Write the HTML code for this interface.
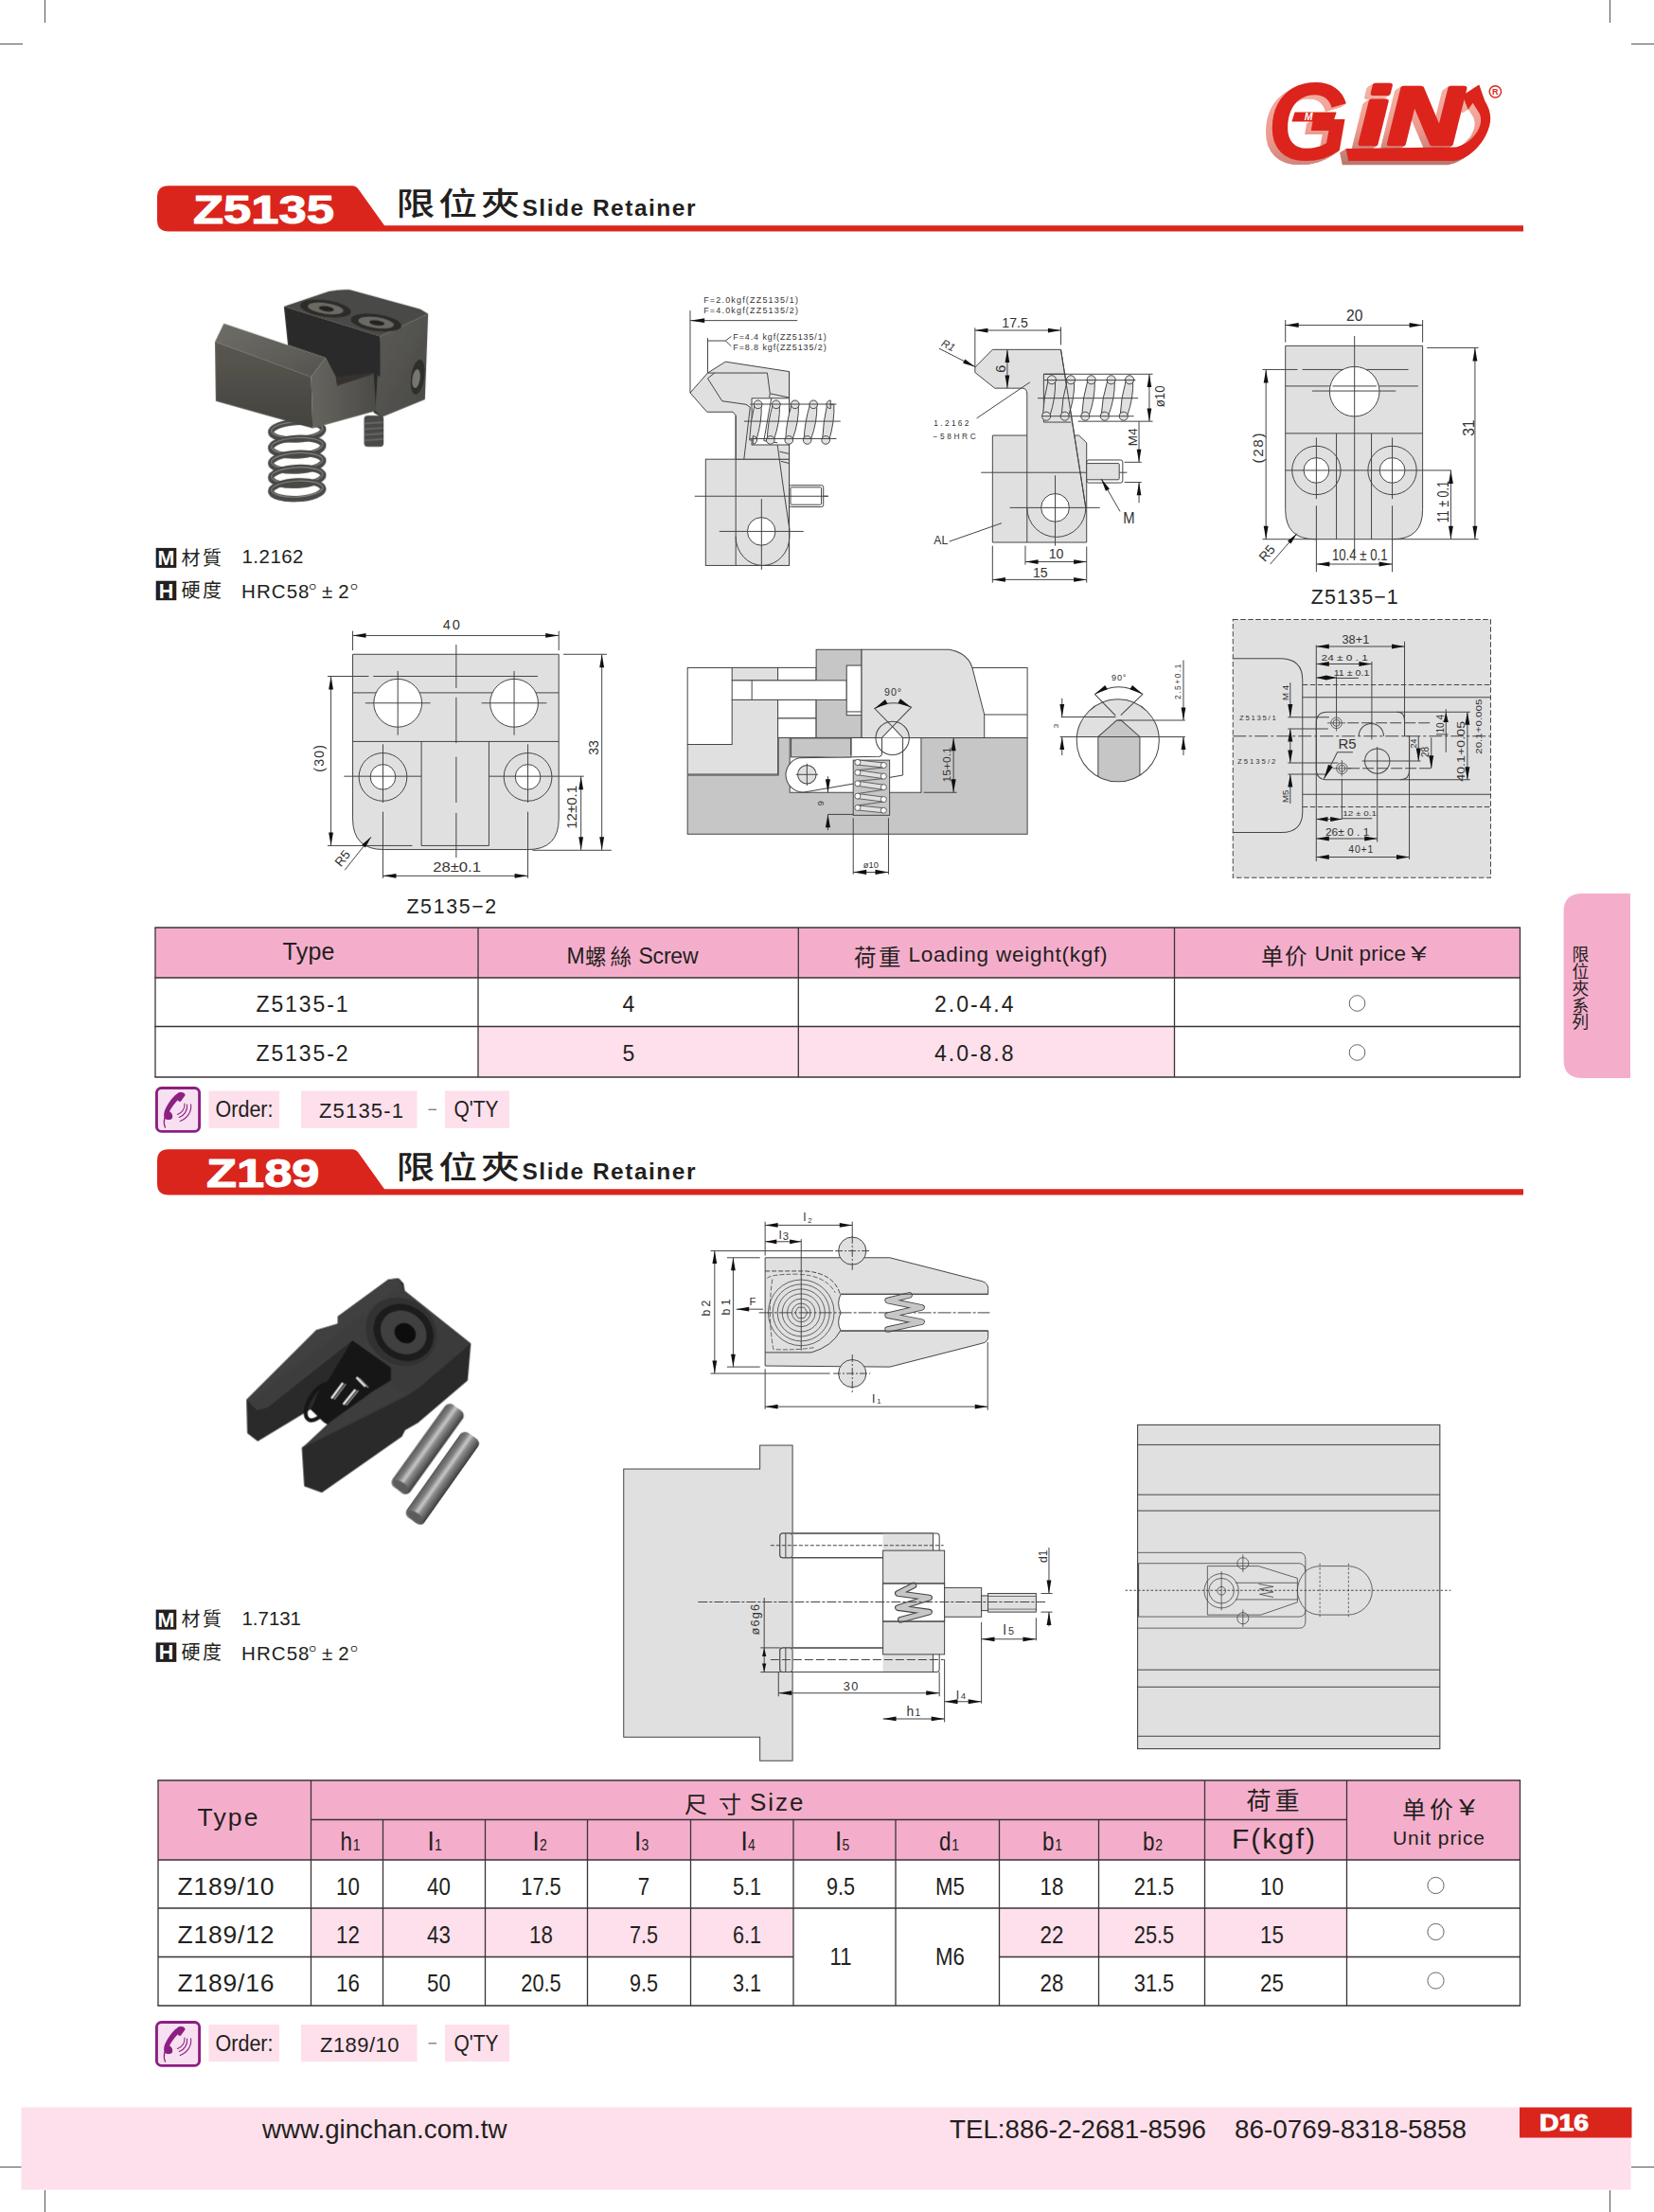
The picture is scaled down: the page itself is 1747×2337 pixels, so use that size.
<!DOCTYPE html>
<html lang="zh-Hant"><head><meta charset="utf-8"><title>Z5135 / Z189 Slide Retainer</title>
<style>
html,body{margin:0;padding:0;background:#fff;}
body{width:1747px;height:2337px;overflow:hidden;}
svg{display:block;}
text{white-space:pre;}
</style></head><body>
<svg width="1747" height="2337" viewBox="0 0 1747 2337">
<rect width="1747" height="2337" fill="#fff"/>
<line x1="47.5" y1="0" x2="47.5" y2="24" stroke="#555" stroke-width="1"/><line x1="47.5" y1="2314" x2="47.5" y2="2337" stroke="#555" stroke-width="1"/><line x1="1700.5" y1="0" x2="1700.5" y2="24" stroke="#555" stroke-width="1"/><line x1="1700.5" y1="2314" x2="1700.5" y2="2337" stroke="#555" stroke-width="1"/><line x1="0" y1="46.5" x2="24" y2="46.5" stroke="#555" stroke-width="1"/><line x1="1723" y1="46.5" x2="1747" y2="46.5" stroke="#555" stroke-width="1"/><line x1="0" y1="2289.5" x2="24" y2="2289.5" stroke="#555" stroke-width="1"/><line x1="1723" y1="2289.5" x2="1747" y2="2289.5" stroke="#555" stroke-width="1"/>
<path d="M 178,196.3 L 372,196.3 Q 376,196.3 378.5,199.8 L 406,238.3 L 1609,238.3 L 1609,244.5 L 178,244.5 Q 166,244.5 166,232.5 L 166,208.3 Q 166,196.3 178,196.3 Z" fill="#da251d" stroke="none" stroke-width="0" /><text x="204" y="235.6" font-size="43" text-anchor="start" fill="#fff" font-family="Liberation Sans, sans-serif" textLength="149" lengthAdjust="spacingAndGlyphs" font-weight="bold" stroke="#fff" stroke-width="1.1" stroke-linejoin="round">Z5135</text><text x="0" y="0" font-size="33" text-anchor="start" fill="#231f20" font-family="Liberation Sans, Noto Sans CJK TC, Noto Sans CJK SC, sans-serif" transform="translate(418.5,227.3) scale(1.24,1)" textLength="105.24" lengthAdjust="spacing" font-weight="500" >限位夾</text><text x="551.5" y="228.1" font-size="24.5" text-anchor="start" fill="#231f20" font-family="Liberation Sans, sans-serif" textLength="183" lengthAdjust="spacing" font-weight="bold" >Slide Retainer</text>
<path d="M 178,1214.3 L 372,1214.3 Q 376,1214.3 378.5,1217.8 L 406,1256.3 L 1609,1256.3 L 1609,1262.5 L 178,1262.5 Q 166,1262.5 166,1250.5 L 166,1226.3 Q 166,1214.3 178,1214.3 Z" fill="#da251d" stroke="none" stroke-width="0" /><text x="218" y="1253.6" font-size="43" text-anchor="start" fill="#fff" font-family="Liberation Sans, sans-serif" textLength="119.5" lengthAdjust="spacingAndGlyphs" font-weight="bold" stroke="#fff" stroke-width="1.1" stroke-linejoin="round">Z189</text><text x="0" y="0" font-size="33" text-anchor="start" fill="#231f20" font-family="Liberation Sans, Noto Sans CJK TC, Noto Sans CJK SC, sans-serif" transform="translate(418.5,1245.3) scale(1.24,1)" textLength="105.24" lengthAdjust="spacing" font-weight="500" >限位夾</text><text x="551.5" y="1246.1" font-size="24.5" text-anchor="start" fill="#231f20" font-family="Liberation Sans, sans-serif" textLength="183" lengthAdjust="spacing" font-weight="bold" >Slide Retainer</text>
<rect x="22.5" y="2226.5" width="1700" height="87" rx="0" fill="#fde0ec" stroke="none" stroke-width="0"/><rect x="1605" y="2226.5" width="118.5" height="32" rx="0" fill="#da251d" stroke="none" stroke-width="0"/><text x="1626" y="2250.5" font-size="23" text-anchor="start" fill="#fff" font-family="Liberation Sans, sans-serif" textLength="52" lengthAdjust="spacingAndGlyphs" font-weight="bold" stroke="#fff" stroke-width="0.9">D16</text><text x="277" y="2259" font-size="28" text-anchor="start" fill="#231f20" font-family="Liberation Sans, sans-serif" textLength="258.5" lengthAdjust="spacingAndGlyphs" >www.ginchan.com.tw</text><text x="1003" y="2259" font-size="28" text-anchor="start" fill="#231f20" font-family="Liberation Sans, sans-serif" textLength="271" lengthAdjust="spacingAndGlyphs" >TEL:886-2-2681-8596</text><text x="1304" y="2259" font-size="28" text-anchor="start" fill="#231f20" font-family="Liberation Sans, sans-serif" textLength="245" lengthAdjust="spacingAndGlyphs" >86-0769-8318-5858</text>
<path d="M 1722,944 L 1671,944 Q 1651.6,944 1651.6,963 L 1651.6,1120 Q 1651.6,1139 1671,1139 L 1722,1139 Z" fill="#f4aecb" stroke="none" stroke-width="0" /><text x="1669.5" y="1015.1" font-size="17.8" text-anchor="middle" fill="#231f20" font-family="Liberation Sans, Noto Sans CJK TC, Noto Sans CJK SC, sans-serif" >限</text><text x="1669.5" y="1032.9" font-size="17.8" text-anchor="middle" fill="#231f20" font-family="Liberation Sans, Noto Sans CJK TC, Noto Sans CJK SC, sans-serif" >位</text><text x="1669.5" y="1050.7" font-size="17.8" text-anchor="middle" fill="#231f20" font-family="Liberation Sans, Noto Sans CJK TC, Noto Sans CJK SC, sans-serif" >夾</text><text x="1669.5" y="1068.5" font-size="17.8" text-anchor="middle" fill="#231f20" font-family="Liberation Sans, Noto Sans CJK TC, Noto Sans CJK SC, sans-serif" >系</text><text x="1669.5" y="1086.3" font-size="17.8" text-anchor="middle" fill="#231f20" font-family="Liberation Sans, Noto Sans CJK TC, Noto Sans CJK SC, sans-serif" >列</text>
<rect x="164.7" y="578.9" width="21.6" height="21" rx="0" fill="#231f20" stroke="none" stroke-width="0"/><text x="175.5" y="597.2" font-size="21.5" text-anchor="middle" fill="#fff" font-family="Liberation Sans, sans-serif" font-weight="bold" >M</text><text x="191.5" y="596.5" font-size="20" text-anchor="start" fill="#231f20" font-family="Liberation Sans, Noto Sans CJK TC, Noto Sans CJK SC, sans-serif" textLength="42.5" lengthAdjust="spacing" >材質</text><text x="255.5" y="595.3" font-size="20.5" text-anchor="start" fill="#231f20" font-family="Liberation Sans, sans-serif" textLength="65" lengthAdjust="spacing" >1.2162</text><rect x="164.7" y="613.7" width="21.6" height="20.5" rx="0" fill="#231f20" stroke="none" stroke-width="0"/><text x="175.5" y="631.7" font-size="21.5" text-anchor="middle" fill="#fff" font-family="Liberation Sans, sans-serif" font-weight="bold" >H</text><text x="191.5" y="631.3" font-size="20" text-anchor="start" fill="#231f20" font-family="Liberation Sans, Noto Sans CJK TC, Noto Sans CJK SC, sans-serif" textLength="42.5" lengthAdjust="spacing" >硬度</text><text x="255" y="631.9" font-size="20.5" text-anchor="start" fill="#231f20" font-family="Liberation Sans, sans-serif" textLength="71.5" lengthAdjust="spacing" >HRC58</text><text x="326.5" y="623.4" font-size="9.5" text-anchor="start" fill="#231f20" font-family="Liberation Sans, sans-serif" >O</text><text x="340" y="631.9" font-size="20.5" text-anchor="start" fill="#231f20" font-family="Liberation Sans, sans-serif" >±</text><text x="357.3" y="631.9" font-size="20.5" text-anchor="start" fill="#231f20" font-family="Liberation Sans, sans-serif" >2</text><text x="370.3" y="623.4" font-size="9.5" text-anchor="start" fill="#231f20" font-family="Liberation Sans, sans-serif" >O</text>
<rect x="164.7" y="1700.6" width="21.6" height="21" rx="0" fill="#231f20" stroke="none" stroke-width="0"/><text x="175.5" y="1718.9" font-size="21.5" text-anchor="middle" fill="#fff" font-family="Liberation Sans, sans-serif" font-weight="bold" >M</text><text x="191.5" y="1718.2" font-size="20" text-anchor="start" fill="#231f20" font-family="Liberation Sans, Noto Sans CJK TC, Noto Sans CJK SC, sans-serif" textLength="42.5" lengthAdjust="spacing" >材質</text><text x="255.5" y="1717" font-size="20.5" text-anchor="start" fill="#231f20" font-family="Liberation Sans, sans-serif" textLength="62.5" lengthAdjust="spacing" >1.7131</text><rect x="164.7" y="1735.4" width="21.6" height="20.5" rx="0" fill="#231f20" stroke="none" stroke-width="0"/><text x="175.5" y="1753.4" font-size="21.5" text-anchor="middle" fill="#fff" font-family="Liberation Sans, sans-serif" font-weight="bold" >H</text><text x="191.5" y="1753" font-size="20" text-anchor="start" fill="#231f20" font-family="Liberation Sans, Noto Sans CJK TC, Noto Sans CJK SC, sans-serif" textLength="42.5" lengthAdjust="spacing" >硬度</text><text x="255" y="1753.6" font-size="20.5" text-anchor="start" fill="#231f20" font-family="Liberation Sans, sans-serif" textLength="71.5" lengthAdjust="spacing" >HRC58</text><text x="326.5" y="1745.1" font-size="9.5" text-anchor="start" fill="#231f20" font-family="Liberation Sans, sans-serif" >O</text><text x="340" y="1753.6" font-size="20.5" text-anchor="start" fill="#231f20" font-family="Liberation Sans, sans-serif" >±</text><text x="357.3" y="1753.6" font-size="20.5" text-anchor="start" fill="#231f20" font-family="Liberation Sans, sans-serif" >2</text><text x="370.3" y="1745.1" font-size="9.5" text-anchor="start" fill="#231f20" font-family="Liberation Sans, sans-serif" >O</text>
<rect x="164" y="980" width="1441.5" height="53" rx="0" fill="#f4aecb" stroke="none" stroke-width="0"/><rect x="505" y="1084.5" width="735.5" height="53.5" rx="0" fill="#fde0ec" stroke="none" stroke-width="0"/><line x1="163.4" y1="980" x2="1606.1" y2="980" stroke="#3a3336" stroke-width="1.3"/><line x1="163.4" y1="1033" x2="1606.1" y2="1033" stroke="#3a3336" stroke-width="1.3"/><line x1="163.4" y1="1084.5" x2="1606.1" y2="1084.5" stroke="#3a3336" stroke-width="1.3"/><line x1="163.4" y1="1138" x2="1606.1" y2="1138" stroke="#3a3336" stroke-width="1.3"/><line x1="164" y1="980" x2="164" y2="1138" stroke="#3a3336" stroke-width="1.3"/><line x1="505" y1="980" x2="505" y2="1138" stroke="#3a3336" stroke-width="1.3"/><line x1="843.3" y1="980" x2="843.3" y2="1138" stroke="#3a3336" stroke-width="1.3"/><line x1="1240.5" y1="980" x2="1240.5" y2="1138" stroke="#3a3336" stroke-width="1.3"/><line x1="1605.5" y1="980" x2="1605.5" y2="1138" stroke="#3a3336" stroke-width="1.3"/><text x="298.5" y="1014" font-size="25" text-anchor="start" fill="#231f20" font-family="Liberation Sans, sans-serif" textLength="55" lengthAdjust="spacing" >Type</text><text x="598.5" y="1017.5" font-size="23" text-anchor="start" fill="#231f20" font-family="Liberation Sans, sans-serif" >M</text><text x="618" y="1019.3" font-size="22.5" text-anchor="start" fill="#231f20" font-family="Liberation Sans, Noto Sans CJK TC, Noto Sans CJK SC, sans-serif" textLength="49" lengthAdjust="spacing" >螺絲</text><text x="674.5" y="1017.5" font-size="23" text-anchor="start" fill="#231f20" font-family="Liberation Sans, sans-serif" textLength="63" lengthAdjust="spacing" >Screw</text><text x="902" y="1019.5" font-size="23.5" text-anchor="start" fill="#231f20" font-family="Liberation Sans, Noto Sans CJK TC, Noto Sans CJK SC, sans-serif" textLength="49.5" lengthAdjust="spacing" >荷重</text><text x="959.5" y="1016" font-size="22.5" text-anchor="start" fill="#231f20" font-family="Liberation Sans, sans-serif" textLength="210" lengthAdjust="spacing" >Loading weight(kgf)</text><text x="1332" y="1018.5" font-size="23.5" text-anchor="start" fill="#231f20" font-family="Liberation Sans, Noto Sans CJK TC, Noto Sans CJK SC, sans-serif" textLength="48.5" lengthAdjust="spacing" >单价</text><text x="1388.5" y="1015" font-size="22.5" text-anchor="start" fill="#231f20" font-family="Liberation Sans, sans-serif" textLength="96.5" lengthAdjust="spacing" >Unit price</text><text x="1490" y="1015" font-size="22.5" text-anchor="start" fill="#231f20" font-family="Liberation Sans, sans-serif" textLength="17" lengthAdjust="spacingAndGlyphs" >¥</text><text x="270.5" y="1069" font-size="23" text-anchor="start" fill="#231f20" font-family="Liberation Sans, sans-serif" textLength="97" lengthAdjust="spacing" >Z5135-1</text><text x="664" y="1069" font-size="23" text-anchor="middle" fill="#231f20" font-family="Liberation Sans, sans-serif" >4</text><text x="987" y="1069" font-size="23" text-anchor="start" fill="#231f20" font-family="Liberation Sans, sans-serif" textLength="83.5" lengthAdjust="spacing" >2.0-4.4</text><circle cx="1433.5" cy="1060" r="8.3" fill="#fff" stroke="#666" stroke-width="1"/><text x="270.5" y="1121" font-size="23" text-anchor="start" fill="#231f20" font-family="Liberation Sans, sans-serif" textLength="97" lengthAdjust="spacing" >Z5135-2</text><text x="664" y="1121" font-size="23" text-anchor="middle" fill="#231f20" font-family="Liberation Sans, sans-serif" >5</text><text x="987" y="1121" font-size="23" text-anchor="start" fill="#231f20" font-family="Liberation Sans, sans-serif" textLength="83.5" lengthAdjust="spacing" >4.0-8.8</text><circle cx="1433.5" cy="1112" r="8.3" fill="#fff" stroke="#666" stroke-width="1"/>
<rect x="167" y="1881" width="1438.5" height="84" rx="0" fill="#f4aecb" stroke="none" stroke-width="0"/><rect x="328.5" y="2016" width="509.5" height="51.5" rx="0" fill="#fde0ec" stroke="none" stroke-width="0"/><rect x="1055.5" y="2016" width="367" height="51.5" rx="0" fill="#fde0ec" stroke="none" stroke-width="0"/><line x1="166.4" y1="1881" x2="1606.1" y2="1881" stroke="#3a3336" stroke-width="1.3"/><line x1="328.5" y1="1922.5" x2="1422.5" y2="1922.5" stroke="#3a3336" stroke-width="1.3"/><line x1="167" y1="1965" x2="1605.5" y2="1965" stroke="#3a3336" stroke-width="1.3"/><line x1="167" y1="2016" x2="1605.5" y2="2016" stroke="#3a3336" stroke-width="1.3"/><line x1="167" y1="2067.5" x2="838" y2="2067.5" stroke="#3a3336" stroke-width="1.3"/><line x1="1055.5" y1="2067.5" x2="1605.5" y2="2067.5" stroke="#3a3336" stroke-width="1.3"/><line x1="166.4" y1="2119" x2="1606.1" y2="2119" stroke="#3a3336" stroke-width="1.3"/><line x1="167" y1="1881" x2="167" y2="2119" stroke="#3a3336" stroke-width="1.3"/><line x1="328.5" y1="1881" x2="328.5" y2="2119" stroke="#3a3336" stroke-width="1.3"/><line x1="404.5" y1="1922.5" x2="404.5" y2="2119" stroke="#3a3336" stroke-width="1.3"/><line x1="512.5" y1="1922.5" x2="512.5" y2="2119" stroke="#3a3336" stroke-width="1.3"/><line x1="620.5" y1="1922.5" x2="620.5" y2="2119" stroke="#3a3336" stroke-width="1.3"/><line x1="729.5" y1="1922.5" x2="729.5" y2="2119" stroke="#3a3336" stroke-width="1.3"/><line x1="838" y1="1922.5" x2="838" y2="2119" stroke="#3a3336" stroke-width="1.3"/><line x1="946" y1="1922.5" x2="946" y2="2119" stroke="#3a3336" stroke-width="1.3"/><line x1="1055.5" y1="1922.5" x2="1055.5" y2="2119" stroke="#3a3336" stroke-width="1.3"/><line x1="1160.5" y1="1922.5" x2="1160.5" y2="2119" stroke="#3a3336" stroke-width="1.3"/><line x1="1272.5" y1="1881" x2="1272.5" y2="2119" stroke="#3a3336" stroke-width="1.3"/><line x1="1422.5" y1="1881" x2="1422.5" y2="2119" stroke="#3a3336" stroke-width="1.3"/><line x1="1605.5" y1="1881" x2="1605.5" y2="2119" stroke="#3a3336" stroke-width="1.3"/><text x="208.5" y="1929" font-size="26.5" text-anchor="start" fill="#231f20" font-family="Liberation Sans, sans-serif" textLength="64" lengthAdjust="spacing" >Type</text><text x="723" y="1915" font-size="24" text-anchor="start" fill="#231f20" font-family="Liberation Sans, Noto Sans CJK TC, Noto Sans CJK SC, sans-serif" >尺</text><text x="759" y="1915" font-size="24" text-anchor="start" fill="#231f20" font-family="Liberation Sans, Noto Sans CJK TC, Noto Sans CJK SC, sans-serif" >寸</text><text x="792" y="1912.5" font-size="26" text-anchor="start" fill="#231f20" font-family="Liberation Sans, sans-serif" textLength="56.5" lengthAdjust="spacing" >Size</text><text x="1316.5" y="1912" font-size="26" text-anchor="start" fill="#231f20" font-family="Liberation Sans, Noto Sans CJK TC, Noto Sans CJK SC, sans-serif" textLength="56" lengthAdjust="spacing" >荷重</text><text x="1301" y="1952.5" font-size="30" text-anchor="start" fill="#231f20" font-family="Liberation Sans, sans-serif" textLength="88" lengthAdjust="spacing" >F(kgf)</text><text x="1481" y="1920.5" font-size="25" text-anchor="start" fill="#231f20" font-family="Liberation Sans, Noto Sans CJK TC, Noto Sans CJK SC, sans-serif" textLength="54" lengthAdjust="spacing" >单价</text><text x="1541" y="1918" font-size="23" text-anchor="start" fill="#231f20" font-family="Liberation Sans, sans-serif" textLength="17" lengthAdjust="spacingAndGlyphs" >¥</text><text x="1471" y="1949" font-size="21" text-anchor="start" fill="#231f20" font-family="Liberation Sans, sans-serif" textLength="97" lengthAdjust="spacing" >Unit price</text><text x="359.5" y="1955" font-size="28" text-anchor="start" fill="#231f20" font-family="Liberation Sans, sans-serif" textLength="12.5" lengthAdjust="spacingAndGlyphs" >h</text><text x="372.8" y="1955" font-size="17" text-anchor="start" fill="#231f20" font-family="Liberation Sans, sans-serif" textLength="7.8" lengthAdjust="spacingAndGlyphs" >1</text><text x="452.05" y="1955" font-size="28" text-anchor="start" fill="#231f20" font-family="Liberation Sans, sans-serif" >l</text><text x="459.05" y="1955" font-size="17" text-anchor="start" fill="#231f20" font-family="Liberation Sans, sans-serif" textLength="7.8" lengthAdjust="spacingAndGlyphs" >1</text><text x="563.05" y="1955" font-size="28" text-anchor="start" fill="#231f20" font-family="Liberation Sans, sans-serif" >l</text><text x="570.05" y="1955" font-size="17" text-anchor="start" fill="#231f20" font-family="Liberation Sans, sans-serif" textLength="7.8" lengthAdjust="spacingAndGlyphs" >2</text><text x="670.55" y="1955" font-size="28" text-anchor="start" fill="#231f20" font-family="Liberation Sans, sans-serif" >l</text><text x="677.55" y="1955" font-size="17" text-anchor="start" fill="#231f20" font-family="Liberation Sans, sans-serif" textLength="7.8" lengthAdjust="spacingAndGlyphs" >3</text><text x="783.05" y="1955" font-size="28" text-anchor="start" fill="#231f20" font-family="Liberation Sans, sans-serif" >l</text><text x="790.05" y="1955" font-size="17" text-anchor="start" fill="#231f20" font-family="Liberation Sans, sans-serif" textLength="7.8" lengthAdjust="spacingAndGlyphs" >4</text><text x="882.55" y="1955" font-size="28" text-anchor="start" fill="#231f20" font-family="Liberation Sans, sans-serif" >l</text><text x="889.55" y="1955" font-size="17" text-anchor="start" fill="#231f20" font-family="Liberation Sans, sans-serif" textLength="7.8" lengthAdjust="spacingAndGlyphs" >5</text><text x="992" y="1955" font-size="28" text-anchor="start" fill="#231f20" font-family="Liberation Sans, sans-serif" textLength="12.5" lengthAdjust="spacingAndGlyphs" >d</text><text x="1005.3" y="1955" font-size="17" text-anchor="start" fill="#231f20" font-family="Liberation Sans, sans-serif" textLength="7.8" lengthAdjust="spacingAndGlyphs" >1</text><text x="1101" y="1955" font-size="28" text-anchor="start" fill="#231f20" font-family="Liberation Sans, sans-serif" textLength="12.5" lengthAdjust="spacingAndGlyphs" >b</text><text x="1114.3" y="1955" font-size="17" text-anchor="start" fill="#231f20" font-family="Liberation Sans, sans-serif" textLength="7.8" lengthAdjust="spacingAndGlyphs" >1</text><text x="1207" y="1955" font-size="28" text-anchor="start" fill="#231f20" font-family="Liberation Sans, sans-serif" textLength="12.5" lengthAdjust="spacingAndGlyphs" >b</text><text x="1220.3" y="1955" font-size="17" text-anchor="start" fill="#231f20" font-family="Liberation Sans, sans-serif" textLength="7.8" lengthAdjust="spacingAndGlyphs" >2</text><text x="187.5" y="2001.5" font-size="26.5" text-anchor="start" fill="#231f20" font-family="Liberation Sans, sans-serif" textLength="102" lengthAdjust="spacing" >Z189/10</text><text x="355.1" y="2001.5" font-size="26.5" text-anchor="start" fill="#231f20" font-family="Liberation Sans, sans-serif" textLength="24.8" lengthAdjust="spacingAndGlyphs" >10</text><text x="451.1" y="2001.5" font-size="26.5" text-anchor="start" fill="#231f20" font-family="Liberation Sans, sans-serif" textLength="24.8" lengthAdjust="spacingAndGlyphs" >40</text><text x="550.3" y="2001.5" font-size="26.5" text-anchor="start" fill="#231f20" font-family="Liberation Sans, sans-serif" textLength="42.4" lengthAdjust="spacingAndGlyphs" >17.5</text><text x="673.8" y="2001.5" font-size="26.5" text-anchor="start" fill="#231f20" font-family="Liberation Sans, sans-serif" textLength="12.4" lengthAdjust="spacingAndGlyphs" >7</text><text x="774" y="2001.5" font-size="26.5" text-anchor="start" fill="#231f20" font-family="Liberation Sans, sans-serif" textLength="30" lengthAdjust="spacingAndGlyphs" >5.1</text><text x="873" y="2001.5" font-size="26.5" text-anchor="start" fill="#231f20" font-family="Liberation Sans, sans-serif" textLength="30" lengthAdjust="spacingAndGlyphs" >9.5</text><text x="988.05" y="2001.5" font-size="26.5" text-anchor="start" fill="#231f20" font-family="Liberation Sans, sans-serif" textLength="30.9" lengthAdjust="spacingAndGlyphs" >M5</text><text x="1098.6" y="2001.5" font-size="26.5" text-anchor="start" fill="#231f20" font-family="Liberation Sans, sans-serif" textLength="24.8" lengthAdjust="spacingAndGlyphs" >18</text><text x="1197.8" y="2001.5" font-size="26.5" text-anchor="start" fill="#231f20" font-family="Liberation Sans, sans-serif" textLength="42.4" lengthAdjust="spacingAndGlyphs" >21.5</text><text x="1331.1" y="2001.5" font-size="26.5" text-anchor="start" fill="#231f20" font-family="Liberation Sans, sans-serif" textLength="24.8" lengthAdjust="spacingAndGlyphs" >10</text><circle cx="1516.5" cy="1992" r="8.6" fill="#fff" stroke="#666" stroke-width="1"/><text x="187.5" y="2052.5" font-size="26.5" text-anchor="start" fill="#231f20" font-family="Liberation Sans, sans-serif" textLength="102" lengthAdjust="spacing" >Z189/12</text><text x="355.1" y="2052.5" font-size="26.5" text-anchor="start" fill="#231f20" font-family="Liberation Sans, sans-serif" textLength="24.8" lengthAdjust="spacingAndGlyphs" >12</text><text x="451.1" y="2052.5" font-size="26.5" text-anchor="start" fill="#231f20" font-family="Liberation Sans, sans-serif" textLength="24.8" lengthAdjust="spacingAndGlyphs" >43</text><text x="559.1" y="2052.5" font-size="26.5" text-anchor="start" fill="#231f20" font-family="Liberation Sans, sans-serif" textLength="24.8" lengthAdjust="spacingAndGlyphs" >18</text><text x="665" y="2052.5" font-size="26.5" text-anchor="start" fill="#231f20" font-family="Liberation Sans, sans-serif" textLength="30" lengthAdjust="spacingAndGlyphs" >7.5</text><text x="774" y="2052.5" font-size="26.5" text-anchor="start" fill="#231f20" font-family="Liberation Sans, sans-serif" textLength="30" lengthAdjust="spacingAndGlyphs" >6.1</text><text x="1098.6" y="2052.5" font-size="26.5" text-anchor="start" fill="#231f20" font-family="Liberation Sans, sans-serif" textLength="24.8" lengthAdjust="spacingAndGlyphs" >22</text><text x="1197.8" y="2052.5" font-size="26.5" text-anchor="start" fill="#231f20" font-family="Liberation Sans, sans-serif" textLength="42.4" lengthAdjust="spacingAndGlyphs" >25.5</text><text x="1331.1" y="2052.5" font-size="26.5" text-anchor="start" fill="#231f20" font-family="Liberation Sans, sans-serif" textLength="24.8" lengthAdjust="spacingAndGlyphs" >15</text><circle cx="1516.5" cy="2041" r="8.6" fill="#fff" stroke="#666" stroke-width="1"/><text x="187.5" y="2104" font-size="26.5" text-anchor="start" fill="#231f20" font-family="Liberation Sans, sans-serif" textLength="102" lengthAdjust="spacing" >Z189/16</text><text x="355.1" y="2104" font-size="26.5" text-anchor="start" fill="#231f20" font-family="Liberation Sans, sans-serif" textLength="24.8" lengthAdjust="spacingAndGlyphs" >16</text><text x="451.1" y="2104" font-size="26.5" text-anchor="start" fill="#231f20" font-family="Liberation Sans, sans-serif" textLength="24.8" lengthAdjust="spacingAndGlyphs" >50</text><text x="550.3" y="2104" font-size="26.5" text-anchor="start" fill="#231f20" font-family="Liberation Sans, sans-serif" textLength="42.4" lengthAdjust="spacingAndGlyphs" >20.5</text><text x="665" y="2104" font-size="26.5" text-anchor="start" fill="#231f20" font-family="Liberation Sans, sans-serif" textLength="30" lengthAdjust="spacingAndGlyphs" >9.5</text><text x="774" y="2104" font-size="26.5" text-anchor="start" fill="#231f20" font-family="Liberation Sans, sans-serif" textLength="30" lengthAdjust="spacingAndGlyphs" >3.1</text><text x="1098.6" y="2104" font-size="26.5" text-anchor="start" fill="#231f20" font-family="Liberation Sans, sans-serif" textLength="24.8" lengthAdjust="spacingAndGlyphs" >28</text><text x="1197.8" y="2104" font-size="26.5" text-anchor="start" fill="#231f20" font-family="Liberation Sans, sans-serif" textLength="42.4" lengthAdjust="spacingAndGlyphs" >31.5</text><text x="1331.1" y="2104" font-size="26.5" text-anchor="start" fill="#231f20" font-family="Liberation Sans, sans-serif" textLength="24.8" lengthAdjust="spacingAndGlyphs" >25</text><circle cx="1516.5" cy="2092.5" r="8.6" fill="#fff" stroke="#666" stroke-width="1"/><text x="876.6" y="2076" font-size="26.5" text-anchor="start" fill="#231f20" font-family="Liberation Sans, sans-serif" textLength="22.8" lengthAdjust="spacingAndGlyphs" >11</text><text x="988.05" y="2076" font-size="26.5" text-anchor="start" fill="#231f20" font-family="Liberation Sans, sans-serif" textLength="30.9" lengthAdjust="spacingAndGlyphs" >M6</text>
<g transform="translate(158,1142) scale(0.03628)" >
<rect x="205" y="205" width="1245" height="1265" rx="140" fill="#f7e0f1" stroke="#8c1f82" stroke-width="80"/><path d="M 850,340 C 950,310 1050,370 1035,420 L 905,600 C 860,610 840,590 820,555 C 720,650 620,800 580,890 C 640,920 690,1000 660,1090 C 600,1150 480,1140 430,1090 C 400,1000 420,880 480,780 C 560,620 700,430 850,340 Z" fill="#8c1f82" stroke="none" stroke-width="0" /><path d="M 435,1085 C 410,1200 430,1300 455,1355" fill="none" stroke="#8c1f82" stroke-width="34" stroke-linecap="round"/><path d="M 1020,665 C 1030,800 950,930 812,980" fill="none" stroke="#8c1f82" stroke-width="30" stroke-linecap="round"/><path d="M 1092,690 C 1110,860 1010,1010 862,1060" fill="none" stroke="#8c1f82" stroke-width="30" stroke-linecap="round"/><path d="M 1202,685 C 1230,900 1090,1100 888,1170" fill="none" stroke="#8c1f82" stroke-width="30" stroke-linecap="round"/>
</g>
<rect x="220.5" y="1152.5" width="74.5" height="39.5" rx="0" fill="#fde0ec" stroke="none" stroke-width="0"/><rect x="318" y="1152.5" width="122.5" height="39.5" rx="0" fill="#fde0ec" stroke="none" stroke-width="0"/><rect x="470" y="1152.5" width="68" height="39.5" rx="0" fill="#fde0ec" stroke="none" stroke-width="0"/><text x="227.5" y="1180" font-size="23.5" text-anchor="start" fill="#231f20" font-family="Liberation Sans, sans-serif" textLength="61" lengthAdjust="spacingAndGlyphs" >Order:</text><text x="337" y="1180.5" font-size="22" text-anchor="start" fill="#231f20" font-family="Liberation Sans, sans-serif" textLength="89" lengthAdjust="spacing" >Z5135-1</text><line x1="452.5" y1="1172.3" x2="461" y2="1172.3" stroke="#777" stroke-width="1.3"/><text x="479.5" y="1180" font-size="23.5" text-anchor="start" fill="#231f20" font-family="Liberation Sans, sans-serif" textLength="47" lengthAdjust="spacingAndGlyphs" >Q'TY</text>
<g transform="translate(158,2129) scale(0.03628)" >
<rect x="205" y="205" width="1245" height="1265" rx="140" fill="#f7e0f1" stroke="#8c1f82" stroke-width="80"/><path d="M 850,340 C 950,310 1050,370 1035,420 L 905,600 C 860,610 840,590 820,555 C 720,650 620,800 580,890 C 640,920 690,1000 660,1090 C 600,1150 480,1140 430,1090 C 400,1000 420,880 480,780 C 560,620 700,430 850,340 Z" fill="#8c1f82" stroke="none" stroke-width="0" /><path d="M 435,1085 C 410,1200 430,1300 455,1355" fill="none" stroke="#8c1f82" stroke-width="34" stroke-linecap="round"/><path d="M 1020,665 C 1030,800 950,930 812,980" fill="none" stroke="#8c1f82" stroke-width="30" stroke-linecap="round"/><path d="M 1092,690 C 1110,860 1010,1010 862,1060" fill="none" stroke="#8c1f82" stroke-width="30" stroke-linecap="round"/><path d="M 1202,685 C 1230,900 1090,1100 888,1170" fill="none" stroke="#8c1f82" stroke-width="30" stroke-linecap="round"/>
</g>
<rect x="220.5" y="2139" width="74.5" height="39" rx="0" fill="#fde0ec" stroke="none" stroke-width="0"/><rect x="318" y="2139" width="122.5" height="39" rx="0" fill="#fde0ec" stroke="none" stroke-width="0"/><rect x="470" y="2139" width="68" height="39" rx="0" fill="#fde0ec" stroke="none" stroke-width="0"/><text x="227.5" y="2167" font-size="23.5" text-anchor="start" fill="#231f20" font-family="Liberation Sans, sans-serif" textLength="61" lengthAdjust="spacingAndGlyphs" >Order:</text><text x="338" y="2167.5" font-size="22" text-anchor="start" fill="#231f20" font-family="Liberation Sans, sans-serif" textLength="83.5" lengthAdjust="spacing" >Z189/10</text><line x1="452.5" y1="2158.8" x2="461" y2="2158.8" stroke="#777" stroke-width="1.3"/><text x="479.5" y="2167" font-size="23.5" text-anchor="start" fill="#231f20" font-family="Liberation Sans, sans-serif" textLength="47" lengthAdjust="spacingAndGlyphs" >Q'TY</text>
<!-- logo -->
<g transform="translate(1320,70) scale(0.18138)" >
<defs><linearGradient id="lgx" x1="0" y1="0" x2="0" y2="1"><stop offset="0" stop-color="#f6b9ae"/><stop offset="0.6" stop-color="#ee9a8e"/><stop offset="1" stop-color="#b9786f"/></linearGradient></defs><text x="64" y="570.32" font-size="645" font-weight="bold" font-style="italic" fill="url(#lgx)" font-family="Liberation Sans, sans-serif" textLength="480" lengthAdjust="spacingAndGlyphs">G</text><text x="602" y="474.32" font-size="465" font-weight="bold" font-style="italic" fill="url(#lgx)" font-family="Liberation Sans, sans-serif" textLength="600" lengthAdjust="spacingAndGlyphs" stroke="url(#lgx)" stroke-width="26" stroke-linejoin="round">iN</text><path d="M 560,480 L 1205,471 C 1260,455 1300,420 1325,380 C 1350,340 1352,300 1335,270 L 1299,214 L 1272,252 L 1239,171 L 1336,108 L 1369,201 C 1400,250 1410,300 1395,350 C 1375,420 1330,480 1270,520 C 1240,540 1215,548 1190,552 L 575,552 Z" fill="url(#lgx)" transform="translate(-36,22.32)"/><text x="67" y="568.46" font-size="645" font-weight="bold" font-style="italic" fill="url(#lgx)" font-family="Liberation Sans, sans-serif" textLength="480" lengthAdjust="spacingAndGlyphs">G</text><text x="605" y="472.46" font-size="465" font-weight="bold" font-style="italic" fill="url(#lgx)" font-family="Liberation Sans, sans-serif" textLength="600" lengthAdjust="spacingAndGlyphs" stroke="url(#lgx)" stroke-width="26" stroke-linejoin="round">iN</text><path d="M 560,480 L 1205,471 C 1260,455 1300,420 1325,380 C 1350,340 1352,300 1335,270 L 1299,214 L 1272,252 L 1239,171 L 1336,108 L 1369,201 C 1400,250 1410,300 1395,350 C 1375,420 1330,480 1270,520 C 1240,540 1215,548 1190,552 L 575,552 Z" fill="url(#lgx)" transform="translate(-33,20.46)"/><text x="70" y="566.6" font-size="645" font-weight="bold" font-style="italic" fill="url(#lgx)" font-family="Liberation Sans, sans-serif" textLength="480" lengthAdjust="spacingAndGlyphs">G</text><text x="608" y="470.6" font-size="465" font-weight="bold" font-style="italic" fill="url(#lgx)" font-family="Liberation Sans, sans-serif" textLength="600" lengthAdjust="spacingAndGlyphs" stroke="url(#lgx)" stroke-width="26" stroke-linejoin="round">iN</text><path d="M 560,480 L 1205,471 C 1260,455 1300,420 1325,380 C 1350,340 1352,300 1335,270 L 1299,214 L 1272,252 L 1239,171 L 1336,108 L 1369,201 C 1400,250 1410,300 1395,350 C 1375,420 1330,480 1270,520 C 1240,540 1215,548 1190,552 L 575,552 Z" fill="url(#lgx)" transform="translate(-30,18.6)"/><text x="73" y="564.74" font-size="645" font-weight="bold" font-style="italic" fill="url(#lgx)" font-family="Liberation Sans, sans-serif" textLength="480" lengthAdjust="spacingAndGlyphs">G</text><text x="611" y="468.74" font-size="465" font-weight="bold" font-style="italic" fill="url(#lgx)" font-family="Liberation Sans, sans-serif" textLength="600" lengthAdjust="spacingAndGlyphs" stroke="url(#lgx)" stroke-width="26" stroke-linejoin="round">iN</text><path d="M 560,480 L 1205,471 C 1260,455 1300,420 1325,380 C 1350,340 1352,300 1335,270 L 1299,214 L 1272,252 L 1239,171 L 1336,108 L 1369,201 C 1400,250 1410,300 1395,350 C 1375,420 1330,480 1270,520 C 1240,540 1215,548 1190,552 L 575,552 Z" fill="url(#lgx)" transform="translate(-27,16.74)"/><text x="76" y="562.88" font-size="645" font-weight="bold" font-style="italic" fill="url(#lgx)" font-family="Liberation Sans, sans-serif" textLength="480" lengthAdjust="spacingAndGlyphs">G</text><text x="614" y="466.88" font-size="465" font-weight="bold" font-style="italic" fill="url(#lgx)" font-family="Liberation Sans, sans-serif" textLength="600" lengthAdjust="spacingAndGlyphs" stroke="url(#lgx)" stroke-width="26" stroke-linejoin="round">iN</text><path d="M 560,480 L 1205,471 C 1260,455 1300,420 1325,380 C 1350,340 1352,300 1335,270 L 1299,214 L 1272,252 L 1239,171 L 1336,108 L 1369,201 C 1400,250 1410,300 1395,350 C 1375,420 1330,480 1270,520 C 1240,540 1215,548 1190,552 L 575,552 Z" fill="url(#lgx)" transform="translate(-24,14.88)"/><text x="79" y="561.02" font-size="645" font-weight="bold" font-style="italic" fill="url(#lgx)" font-family="Liberation Sans, sans-serif" textLength="480" lengthAdjust="spacingAndGlyphs">G</text><text x="617" y="465.02" font-size="465" font-weight="bold" font-style="italic" fill="url(#lgx)" font-family="Liberation Sans, sans-serif" textLength="600" lengthAdjust="spacingAndGlyphs" stroke="url(#lgx)" stroke-width="26" stroke-linejoin="round">iN</text><path d="M 560,480 L 1205,471 C 1260,455 1300,420 1325,380 C 1350,340 1352,300 1335,270 L 1299,214 L 1272,252 L 1239,171 L 1336,108 L 1369,201 C 1400,250 1410,300 1395,350 C 1375,420 1330,480 1270,520 C 1240,540 1215,548 1190,552 L 575,552 Z" fill="url(#lgx)" transform="translate(-21,13.02)"/><text x="82" y="559.16" font-size="645" font-weight="bold" font-style="italic" fill="url(#lgx)" font-family="Liberation Sans, sans-serif" textLength="480" lengthAdjust="spacingAndGlyphs">G</text><text x="620" y="463.16" font-size="465" font-weight="bold" font-style="italic" fill="url(#lgx)" font-family="Liberation Sans, sans-serif" textLength="600" lengthAdjust="spacingAndGlyphs" stroke="url(#lgx)" stroke-width="26" stroke-linejoin="round">iN</text><path d="M 560,480 L 1205,471 C 1260,455 1300,420 1325,380 C 1350,340 1352,300 1335,270 L 1299,214 L 1272,252 L 1239,171 L 1336,108 L 1369,201 C 1400,250 1410,300 1395,350 C 1375,420 1330,480 1270,520 C 1240,540 1215,548 1190,552 L 575,552 Z" fill="url(#lgx)" transform="translate(-18,11.16)"/><text x="85" y="557.3" font-size="645" font-weight="bold" font-style="italic" fill="url(#lgx)" font-family="Liberation Sans, sans-serif" textLength="480" lengthAdjust="spacingAndGlyphs">G</text><text x="623" y="461.3" font-size="465" font-weight="bold" font-style="italic" fill="url(#lgx)" font-family="Liberation Sans, sans-serif" textLength="600" lengthAdjust="spacingAndGlyphs" stroke="url(#lgx)" stroke-width="26" stroke-linejoin="round">iN</text><path d="M 560,480 L 1205,471 C 1260,455 1300,420 1325,380 C 1350,340 1352,300 1335,270 L 1299,214 L 1272,252 L 1239,171 L 1336,108 L 1369,201 C 1400,250 1410,300 1395,350 C 1375,420 1330,480 1270,520 C 1240,540 1215,548 1190,552 L 575,552 Z" fill="url(#lgx)" transform="translate(-15,9.3)"/><text x="88" y="555.44" font-size="645" font-weight="bold" font-style="italic" fill="url(#lgx)" font-family="Liberation Sans, sans-serif" textLength="480" lengthAdjust="spacingAndGlyphs">G</text><text x="626" y="459.44" font-size="465" font-weight="bold" font-style="italic" fill="url(#lgx)" font-family="Liberation Sans, sans-serif" textLength="600" lengthAdjust="spacingAndGlyphs" stroke="url(#lgx)" stroke-width="26" stroke-linejoin="round">iN</text><path d="M 560,480 L 1205,471 C 1260,455 1300,420 1325,380 C 1350,340 1352,300 1335,270 L 1299,214 L 1272,252 L 1239,171 L 1336,108 L 1369,201 C 1400,250 1410,300 1395,350 C 1375,420 1330,480 1270,520 C 1240,540 1215,548 1190,552 L 575,552 Z" fill="url(#lgx)" transform="translate(-12,7.44)"/><text x="91" y="553.58" font-size="645" font-weight="bold" font-style="italic" fill="url(#lgx)" font-family="Liberation Sans, sans-serif" textLength="480" lengthAdjust="spacingAndGlyphs">G</text><text x="629" y="457.58" font-size="465" font-weight="bold" font-style="italic" fill="url(#lgx)" font-family="Liberation Sans, sans-serif" textLength="600" lengthAdjust="spacingAndGlyphs" stroke="url(#lgx)" stroke-width="26" stroke-linejoin="round">iN</text><path d="M 560,480 L 1205,471 C 1260,455 1300,420 1325,380 C 1350,340 1352,300 1335,270 L 1299,214 L 1272,252 L 1239,171 L 1336,108 L 1369,201 C 1400,250 1410,300 1395,350 C 1375,420 1330,480 1270,520 C 1240,540 1215,548 1190,552 L 575,552 Z" fill="url(#lgx)" transform="translate(-9,5.58)"/><text x="94" y="551.72" font-size="645" font-weight="bold" font-style="italic" fill="url(#lgx)" font-family="Liberation Sans, sans-serif" textLength="480" lengthAdjust="spacingAndGlyphs">G</text><text x="632" y="455.72" font-size="465" font-weight="bold" font-style="italic" fill="url(#lgx)" font-family="Liberation Sans, sans-serif" textLength="600" lengthAdjust="spacingAndGlyphs" stroke="url(#lgx)" stroke-width="26" stroke-linejoin="round">iN</text><path d="M 560,480 L 1205,471 C 1260,455 1300,420 1325,380 C 1350,340 1352,300 1335,270 L 1299,214 L 1272,252 L 1239,171 L 1336,108 L 1369,201 C 1400,250 1410,300 1395,350 C 1375,420 1330,480 1270,520 C 1240,540 1215,548 1190,552 L 575,552 Z" fill="url(#lgx)" transform="translate(-6,3.72)"/><text x="97" y="549.86" font-size="645" font-weight="bold" font-style="italic" fill="url(#lgx)" font-family="Liberation Sans, sans-serif" textLength="480" lengthAdjust="spacingAndGlyphs">G</text><text x="635" y="453.86" font-size="465" font-weight="bold" font-style="italic" fill="url(#lgx)" font-family="Liberation Sans, sans-serif" textLength="600" lengthAdjust="spacingAndGlyphs" stroke="url(#lgx)" stroke-width="26" stroke-linejoin="round">iN</text><path d="M 560,480 L 1205,471 C 1260,455 1300,420 1325,380 C 1350,340 1352,300 1335,270 L 1299,214 L 1272,252 L 1239,171 L 1336,108 L 1369,201 C 1400,250 1410,300 1395,350 C 1375,420 1330,480 1270,520 C 1240,540 1215,548 1190,552 L 575,552 Z" fill="url(#lgx)" transform="translate(-3,1.86)"/><path d="M 560,480 L 1205,471 C 1260,455 1300,420 1325,380 C 1350,340 1352,300 1335,270 L 1299,214 L 1272,252 L 1239,171 L 1336,108 L 1369,201 C 1400,250 1410,300 1395,350 C 1375,420 1330,480 1270,520 C 1240,540 1215,548 1190,552 L 575,552 Z" fill="#dc241c"/><text x="100" y="548" font-size="645" font-weight="bold" font-style="italic" fill="#dc241c" font-family="Liberation Sans, sans-serif" textLength="480" lengthAdjust="spacingAndGlyphs">G</text><text x="638" y="452" font-size="465" font-weight="bold" font-style="italic" fill="#dc241c" font-family="Liberation Sans, sans-serif" textLength="600" lengthAdjust="spacingAndGlyphs" stroke="#dc241c" stroke-width="26" stroke-linejoin="round">iN</text><polygon points="262,268 505,268 488,322 245,322" fill="#dc241c" stroke="none" stroke-width="0" stroke-linejoin="miter"/><text x="318" y="316" font-size="58" font-weight="bold" font-style="italic" fill="#fff" font-family="Liberation Sans, sans-serif">M</text><circle cx="1430" cy="148" r="34" fill="none" stroke="#dc241c" stroke-width="8"/><text x="1430" y="166" font-size="50" font-weight="bold" text-anchor="middle" fill="#dc241c" font-family="Liberation Sans, sans-serif">R</text>
</g>

<!-- photo1 -->
<g transform="translate(200,290) scale(0.16929)" >
<defs><linearGradient id="p1a" x1="0" y1="0" x2="1" y2="1"><stop offset="0" stop-color="#6f6e68"/><stop offset="1" stop-color="#55544f"/></linearGradient><linearGradient id="p1b" x1="0" y1="0" x2="0" y2="1"><stop offset="0" stop-color="#5a5851"/><stop offset="1" stop-color="#45433e"/></linearGradient><linearGradient id="p1c" x1="0" y1="0" x2="1" y2="0"><stop offset="0" stop-color="#66655f"/><stop offset="1" stop-color="#4c4b47"/></linearGradient><linearGradient id="p1d" x1="0" y1="0" x2="1" y2="1"><stop offset="0" stop-color="#5c5b57"/><stop offset="1" stop-color="#4a4946"/></linearGradient><filter id="p1blur" x="-5%" y="-5%" width="110%" height="110%"><feGaussianBlur stdDeviation="3"/></filter></defs><g filter="url(#p1blur)"><ellipse cx="672" cy="975" rx="163" ry="55" fill="none" stroke="#484846" stroke-width="38" transform="rotate(-3 672 975)"/><ellipse cx="672" cy="968" rx="160" ry="50" fill="none" stroke="#85857f" stroke-width="7" transform="rotate(-3 672 968)"/><ellipse cx="672" cy="1075" rx="163" ry="55" fill="none" stroke="#484846" stroke-width="38" transform="rotate(-3 672 1075)"/><ellipse cx="672" cy="1068" rx="160" ry="50" fill="none" stroke="#85857f" stroke-width="7" transform="rotate(-3 672 1068)"/><ellipse cx="672" cy="1170" rx="163" ry="55" fill="none" stroke="#484846" stroke-width="38" transform="rotate(-3 672 1170)"/><ellipse cx="672" cy="1163" rx="160" ry="50" fill="none" stroke="#85857f" stroke-width="7" transform="rotate(-3 672 1163)"/><ellipse cx="672" cy="1260" rx="163" ry="55" fill="none" stroke="#484846" stroke-width="38" transform="rotate(-3 672 1260)"/><ellipse cx="672" cy="1253" rx="160" ry="50" fill="none" stroke="#85857f" stroke-width="7" transform="rotate(-3 672 1253)"/><ellipse cx="672" cy="1345" rx="163" ry="55" fill="none" stroke="#484846" stroke-width="38" transform="rotate(-3 672 1345)"/><ellipse cx="672" cy="1338" rx="160" ry="50" fill="none" stroke="#85857f" stroke-width="7" transform="rotate(-3 672 1338)"/><rect x="1090" y="880" width="122" height="195" rx="22" fill="#4a4a47" stroke="none" stroke-width="0"/><line x1="1092" y1="930" x2="1210" y2="922" stroke="#6a6a66" stroke-width="10"/><line x1="1092" y1="965" x2="1210" y2="957" stroke="#6a6a66" stroke-width="10"/><line x1="1092" y1="1000" x2="1210" y2="992" stroke="#6a6a66" stroke-width="10"/><line x1="1092" y1="1035" x2="1210" y2="1027" stroke="#6a6a66" stroke-width="10"/><polygon points="1135,600 1205,600 1205,892 1150,862" fill="#2a2927" stroke="none" stroke-width="0" stroke-linejoin="miter"/><polygon points="1190,385 1490,245 1470,780 1200,890 1160,850" fill="url(#p1d)" stroke="none" stroke-width="0" stroke-linejoin="miter"/><path d="M590,200 L870,105 Q940,90 1000,95 L1440,215 L1490,245 L1190,385 Z" fill="#4a4a47" stroke="none" stroke-width="0" /><polygon points="590,200 1190,385 1190,640 1150,610 920,690 910,640 850,520 615,440" fill="#2c2b29" stroke="none" stroke-width="0" stroke-linejoin="miter"/><ellipse cx="1425" cy="640" rx="42" ry="110" fill="#2f2e2c" stroke="none" stroke-width="0" transform="rotate(8 1425 640)"/><ellipse cx="1415" cy="650" rx="24" ry="60" fill="#77766f" stroke="none" stroke-width="0" transform="rotate(8 1415 650)"/><ellipse cx="850" cy="212" rx="160" ry="52" fill="#2d2c2a" stroke="none" stroke-width="0" transform="rotate(8 850 212)"/><ellipse cx="850" cy="212" rx="112" ry="34" fill="#6b6a64" stroke="none" stroke-width="0" transform="rotate(8 850 212)"/><ellipse cx="855" cy="214" rx="48" ry="16" fill="#252422" stroke="none" stroke-width="0" transform="rotate(8 855 214)"/><ellipse cx="1165" cy="300" rx="160" ry="52" fill="#2d2c2a" stroke="none" stroke-width="0" transform="rotate(8 1165 300)"/><ellipse cx="1165" cy="300" rx="112" ry="34" fill="#6b6a64" stroke="none" stroke-width="0" transform="rotate(8 1165 300)"/><ellipse cx="1170" cy="302" rx="48" ry="16" fill="#252422" stroke="none" stroke-width="0" transform="rotate(8 1170 302)"/><polygon points="760,640 850,520 915,640 920,690 1150,610 1165,850 770,960" fill="url(#p1c)" stroke="none" stroke-width="0" stroke-linejoin="miter"/><polygon points="215,305 850,520 760,640 160,420" fill="url(#p1a)" stroke="none" stroke-width="0" stroke-linejoin="miter"/><polygon points="160,420 760,640 770,960 165,790" fill="url(#p1b)" stroke="none" stroke-width="0" stroke-linejoin="miter"/><polygon points="915,640 1150,610 1150,620 920,695" fill="#34332f" stroke="none" stroke-width="0" stroke-linejoin="miter"/></g>
</g>

<!-- photo2 -->
<g transform="translate(240,1340) scale(0.16929)" >
<defs><linearGradient id="pinG" x1="0" y1="0" x2="0" y2="1"><stop offset="0" stop-color="#5a5a5a"/><stop offset="0.25" stop-color="#7d7d7d"/><stop offset="0.45" stop-color="#c8c8c8"/><stop offset="0.6" stop-color="#8a8a8a"/><stop offset="1" stop-color="#3c3c3c"/></linearGradient><linearGradient id="p2top" x1="0" y1="0" x2="1" y2="1"><stop offset="0" stop-color="#444444"/><stop offset="1" stop-color="#363636"/></linearGradient><filter id="p2blur" x="-5%" y="-5%" width="110%" height="110%"><feGaussianBlur stdDeviation="2.5"/></filter></defs><g filter="url(#p2blur)"><polygon points="120,820 555,385 690,345 690,300 1005,70 1070,62 1100,95 1108,140 1520,470 1500,700 1190,965 1110,1010 1090,1050 590,1400 480,1360 465,1120 640,985 600,960 520,880 190,1080 125,1030" fill="#2a2a2a" stroke="none" stroke-width="0" stroke-linejoin="miter"/><polygon points="120,820 555,385 690,345 690,300 1005,70 1070,62 1105,140 1520,470 1190,750 1130,790 470,1120 640,960 905,770 1020,700 1020,620 780,450 250,870 185,885" fill="url(#p2top)" stroke="none" stroke-width="0" stroke-linejoin="miter"/><polygon points="780,450 1020,620 1020,700 905,770 640,985 520,880" fill="#161616" stroke="none" stroke-width="0" stroke-linejoin="miter"/><ellipse cx="575" cy="835" rx="62" ry="128" fill="none" stroke="#141414" stroke-width="24" transform="rotate(32 575 835)"/><ellipse cx="640" cy="800" rx="62" ry="128" fill="none" stroke="#141414" stroke-width="24" transform="rotate(32 640 800)"/><ellipse cx="705" cy="770" rx="62" ry="128" fill="none" stroke="#141414" stroke-width="24" transform="rotate(32 705 770)"/><ellipse cx="770" cy="740" rx="62" ry="128" fill="none" stroke="#141414" stroke-width="24" transform="rotate(32 770 740)"/><ellipse cx="830" cy="715" rx="62" ry="128" fill="none" stroke="#141414" stroke-width="24" transform="rotate(32 830 715)"/><line x1="650" y1="812" x2="722" y2="715" stroke="#e4e4e4" stroke-width="15"/><line x1="668" y1="818" x2="740" y2="721" stroke="#9a9a9a" stroke-width="8"/><line x1="724" y1="850" x2="800" y2="756" stroke="#e4e4e4" stroke-width="15"/><line x1="742" y1="856" x2="818" y2="762" stroke="#9a9a9a" stroke-width="8"/><line x1="806" y1="680" x2="862" y2="738" stroke="#e4e4e4" stroke-width="15"/><line x1="824" y1="686" x2="880" y2="744" stroke="#9a9a9a" stroke-width="8"/><polygon points="470,1120 640,960 905,770 1020,700 1130,790" fill="#3c3c3c" stroke="none" stroke-width="0" stroke-linejoin="miter"/><ellipse cx="1085" cy="395" rx="230" ry="205" fill="#333333" stroke="none" stroke-width="0" transform="rotate(35 1085 395)"/><ellipse cx="1100" cy="400" rx="195" ry="170" fill="#1c1c1c" stroke="none" stroke-width="0" transform="rotate(35 1100 400)"/><ellipse cx="1100" cy="400" rx="150" ry="130" fill="#414141" stroke="none" stroke-width="0" transform="rotate(35 1100 400)"/><ellipse cx="1110" cy="405" rx="70" ry="60" fill="#0e0e0e" stroke="none" stroke-width="0" transform="rotate(35 1110 405)"/><g transform="translate(1065,1385) rotate(-54.3)"><rect x="0" y="-68" width="634.13" height="136" rx="38.08" fill="url(#pinG)"/><ellipse cx="29.92" cy="0" rx="27.2" ry="54.4" fill="#5b5b5b"/></g><g transform="translate(1155,1575) rotate(-54.72)"><rect x="0" y="-68" width="649.25" height="136" rx="38.08" fill="url(#pinG)"/><ellipse cx="29.92" cy="0" rx="27.2" ry="54.4" fill="#5b5b5b"/></g></g>
</g>

<!-- dA -->
<g transform="translate(720,300) scale(0.14467)" >
<rect x="175" y="1280" width="610" height="776" rx="0" fill="#e0e0e0" stroke="#444" stroke-width="6.91"/><polygon points="62,795 190,650 320,568 785,640 785,1280 395,1280 395,960 375,935 185,935" fill="#e0e0e0" stroke="#444" stroke-width="6.91" stroke-linejoin="miter"/><path d="M700,1180 Q742,1500 787,1790 L787,1845 A196,211 0 0 1 395,1845" fill="none" stroke="#444" stroke-width="6.91" /><line x1="395" y1="960" x2="395" y2="2056" stroke="#444" stroke-width="6.91"/><line x1="785" y1="640" x2="785" y2="2056" stroke="#444" stroke-width="6.91"/><polyline points="190,650 625,650 645,800 640,830" fill="none" stroke="#444" stroke-width="6.91" stroke-linejoin="miter"/><polyline points="240,650 190,690 295,855 470,880 500,900 455,1280" fill="none" stroke="#444" stroke-width="6.91" stroke-linejoin="miter"/><polyline points="645,800 785,830" fill="none" stroke="#444" stroke-width="6.91" stroke-linejoin="miter"/><polyline points="650,830 700,1180" fill="none" stroke="#444" stroke-width="6.91" stroke-linejoin="miter"/><line x1="715" y1="1225" x2="785" y2="1240" stroke="#444" stroke-width="6.91"/><line x1="725" y1="1295" x2="785" y2="1310" stroke="#444" stroke-width="6.91"/><circle cx="582" cy="1807" r="102" fill="#fff" stroke="#444" stroke-width="6.91"/><line x1="95" y1="1550" x2="1070" y2="1550" stroke="#444" stroke-width="6.91"/><line x1="275" y1="1807" x2="890" y2="1807" stroke="#444" stroke-width="6.91"/><line x1="583" y1="1570" x2="583" y2="2087" stroke="#444" stroke-width="6.91"/><rect x="785" y="1470" width="250" height="158" rx="14" fill="#fff" stroke="#444" stroke-width="6.91"/><rect x="795" y="1485" width="225" height="127" rx="6" fill="#fff" stroke="#444" stroke-width="6.91"/><line x1="785" y1="1550" x2="1070" y2="1550" stroke="#444" stroke-width="6.91"/><rect x="512" y="835" width="273" height="340" rx="0" fill="#fff" stroke="#444" stroke-width="6.91"/><polyline points="655,835 600,1145 700,1160" fill="none" stroke="#444" stroke-width="6.91" stroke-linejoin="miter"/><path d="M495.4,1140 Q501.4,1003 532.4,880 L581.6,880 Q587.6,1003 544.6,1140 Z" fill="#e0e0e0" stroke="#444" stroke-width="6.91" /><path d="M623.4,1140 Q629.4,1003 665.4,880 L714.6,880 Q720.6,1003 672.6,1140 Z" fill="#e0e0e0" stroke="#444" stroke-width="6.91" /><path d="M758.4,1140 Q764.4,1003 803.4,880 L852.6,880 Q858.6,1003 807.6,1140 Z" fill="#e0e0e0" stroke="#444" stroke-width="6.91" /><path d="M892.4,1140 Q898.4,1003 937.4,880 L986.6,880 Q992.6,1003 941.6,1140 Z" fill="#e0e0e0" stroke="#444" stroke-width="6.91" /><path d="M1027.4,1140 Q1033.4,1003 1062.4,880 L1111.6,880 Q1117.6,1003 1076.6,1140 Z" fill="#e0e0e0" stroke="#444" stroke-width="6.91" /><circle cx="557" cy="880" r="30" fill="#e0e0e0" stroke="#444" stroke-width="6.91"/><circle cx="690" cy="880" r="30" fill="#e0e0e0" stroke="#444" stroke-width="6.91"/><circle cx="828" cy="880" r="30" fill="#e0e0e0" stroke="#444" stroke-width="6.91"/><circle cx="962" cy="880" r="30" fill="#e0e0e0" stroke="#444" stroke-width="6.91"/><path d="M1087,850 A30,30 0 0 0 1087,910 Z" fill="#e0e0e0" stroke="#444" stroke-width="6.91" /><circle cx="648" cy="1140" r="30" fill="#e0e0e0" stroke="#444" stroke-width="6.91"/><circle cx="783" cy="1140" r="30" fill="#e0e0e0" stroke="#444" stroke-width="6.91"/><circle cx="917" cy="1140" r="30" fill="#e0e0e0" stroke="#444" stroke-width="6.91"/><circle cx="1052" cy="1140" r="30" fill="#e0e0e0" stroke="#444" stroke-width="6.91"/><path d="M520,1110 A30,30 0 0 1 520,1170 Z" fill="#e0e0e0" stroke="#444" stroke-width="6.91" /><line x1="500" y1="878" x2="1130" y2="878" stroke="#444" stroke-width="6.91"/><line x1="455" y1="1003" x2="1160" y2="1003" stroke="#444" stroke-width="6.91"/><line x1="500" y1="1130" x2="1130" y2="1130" stroke="#444" stroke-width="6.91"/><line x1="62" y1="195" x2="62" y2="795" stroke="#444" stroke-width="6.91"/><line x1="62" y1="267" x2="845" y2="267" stroke="#444" stroke-width="6.91"/><polygon points="62,267 167,250 167,284" fill="#111"/><line x1="190" y1="395" x2="190" y2="650" stroke="#444" stroke-width="6.91"/><polyline points="190,415 320,415 362,383" fill="none" stroke="#444" stroke-width="6.91" stroke-linejoin="miter"/><line x1="320" y1="415" x2="362" y2="455" stroke="#444" stroke-width="6.91"/><text x="160" y="135" font-size="62" text-anchor="start" fill="#333" font-family="Liberation Sans, sans-serif" textLength="690" lengthAdjust="spacing" >F=2.0kgf(ZZ5135/1)</text><text x="160" y="215" font-size="62" text-anchor="start" fill="#333" font-family="Liberation Sans, sans-serif" textLength="690" lengthAdjust="spacing" >F=4.0kgf(ZZ5135/2)</text><text x="375" y="405" font-size="62" text-anchor="start" fill="#333" font-family="Liberation Sans, sans-serif" textLength="680" lengthAdjust="spacing" >F=4.4 kgf(ZZ5135/1)</text><text x="375" y="487" font-size="62" text-anchor="start" fill="#333" font-family="Liberation Sans, sans-serif" textLength="680" lengthAdjust="spacing" >F=8.8 kgf(ZZ5135/2)</text>
</g>

<!-- dB -->
<g transform="translate(960,320) scale(0.18138)" >
<polygon points="487,772 990,772 1035,815 1035,1395 487,1395" fill="#e0e0e0" stroke="#444" stroke-width="5.51" stroke-linejoin="miter"/><path d="M385,375 L487,272 L885,272 L1030,1193 A170,170 0 0 1 688,1193 L688,530 Q688,497 660,497 L500,497 L385,405 Z" fill="#e0e0e0" stroke="#444" stroke-width="5.51" /><line x1="688" y1="1193" x2="688" y2="1395" stroke="#444" stroke-width="5.51"/><circle cx="852" cy="1193" r="82" fill="#fff" stroke="#444" stroke-width="5.51"/><line x1="420" y1="988" x2="1270" y2="988" stroke="#444" stroke-width="5.51"/><line x1="588" y1="1193" x2="1112" y2="1193" stroke="#444" stroke-width="5.51"/><line x1="852" y1="1005" x2="852" y2="1415" stroke="#444" stroke-width="5.51"/><rect x="1035" y="915" width="210" height="133" rx="12" fill="none" stroke="#444" stroke-width="5.51"/><rect x="1035" y="935" width="190" height="95" rx="6" fill="#e0e0e0" stroke="#444" stroke-width="5.51"/><polyline points="920,415 785,415 785,695 945,695" fill="none" stroke="#444" stroke-width="5.51" stroke-linejoin="miter"/><line x1="785" y1="415" x2="1420" y2="415" stroke="#444" stroke-width="5.51"/><line x1="985" y1="690" x2="1420" y2="690" stroke="#444" stroke-width="5.51"/><path d="M780,660 Q784,555 812,448 L852,448 Q856,555 820,660 Z" fill="#e0e0e0" stroke="#444" stroke-width="5.51" /><path d="M888,660 Q892,555 923,448 L963,448 Q967,555 928,660 Z" fill="#e0e0e0" stroke="#444" stroke-width="5.51" /><path d="M1007,660 Q1011,555 1042,448 L1082,448 Q1086,555 1047,660 Z" fill="#e0e0e0" stroke="#444" stroke-width="5.51" /><path d="M1120,660 Q1124,555 1158,448 L1198,448 Q1202,555 1160,660 Z" fill="#e0e0e0" stroke="#444" stroke-width="5.51" /><path d="M1230,660 Q1234,555 1265,448 L1305,448 Q1309,555 1270,660 Z" fill="#e0e0e0" stroke="#444" stroke-width="5.51" /><circle cx="832" cy="448" r="25" fill="#e0e0e0" stroke="#444" stroke-width="5.51"/><circle cx="943" cy="448" r="25" fill="#e0e0e0" stroke="#444" stroke-width="5.51"/><circle cx="1062" cy="448" r="25" fill="#e0e0e0" stroke="#444" stroke-width="5.51"/><circle cx="1178" cy="448" r="25" fill="#e0e0e0" stroke="#444" stroke-width="5.51"/><circle cx="1285" cy="448" r="25" fill="#e0e0e0" stroke="#444" stroke-width="5.51"/><circle cx="800" cy="660" r="25" fill="#e0e0e0" stroke="#444" stroke-width="5.51"/><circle cx="908" cy="660" r="25" fill="#e0e0e0" stroke="#444" stroke-width="5.51"/><circle cx="1027" cy="660" r="25" fill="#e0e0e0" stroke="#444" stroke-width="5.51"/><circle cx="1140" cy="660" r="25" fill="#e0e0e0" stroke="#444" stroke-width="5.51"/><circle cx="1250" cy="660" r="25" fill="#e0e0e0" stroke="#444" stroke-width="5.51"/><line x1="785" y1="450" x2="1320" y2="450" stroke="#444" stroke-width="5.51"/><line x1="750" y1="555" x2="1335" y2="555" stroke="#444" stroke-width="5.51"/><line x1="775" y1="660" x2="1310" y2="660" stroke="#444" stroke-width="5.51"/><line x1="885" y1="272" x2="1030" y2="1193" stroke="#444" stroke-width="5.51"/><line x1="385" y1="145" x2="385" y2="375" stroke="#444" stroke-width="5.51"/><line x1="885" y1="140" x2="885" y2="245" stroke="#444" stroke-width="5.51"/><line x1="385" y1="160" x2="885" y2="160" stroke="#444" stroke-width="5.51"/><polygon points="885,160 810,173 810,147" fill="#111"/><polygon points="385,160 460,147 460,173" fill="#111"/><text x="618" y="145" font-size="78" text-anchor="middle" fill="#333" font-family="Liberation Sans, sans-serif" >17.5</text><line x1="573" y1="272" x2="573" y2="497" stroke="#444" stroke-width="5.51"/><polygon points="573,497 560,422 586,422" fill="#111"/><polygon points="573,272 586,347 560,347" fill="#111"/><text x="565" y="385" font-size="80" text-anchor="middle" fill="#333" font-family="Liberation Sans, sans-serif" transform="rotate(-90 565 385)" >6</text><line x1="175" y1="265" x2="385" y2="372" stroke="#444" stroke-width="5.51"/><polygon points="385,372 314.95,350.9 326.75,327.73" fill="#111"/><text x="185" y="248" font-size="62" text-anchor="start" fill="#333" font-family="Liberation Sans, sans-serif" transform="rotate(27 185 248)" font-style="italic" >R1</text><line x1="395" y1="672" x2="705" y2="462" stroke="#444" stroke-width="5.51"/><text x="145" y="718" font-size="46" text-anchor="start" fill="#333" font-family="Liberation Sans, sans-serif" textLength="205" lengthAdjust="spacing" >1.2162</text><text x="140" y="795" font-size="46" text-anchor="start" fill="#333" font-family="Liberation Sans, sans-serif" textLength="250" lengthAdjust="spacing" >−58HRC</text><text x="145" y="1408" font-size="72" text-anchor="start" fill="#333" font-family="Liberation Sans, sans-serif" textLength="82" lengthAdjust="spacingAndGlyphs" >AL</text><line x1="235" y1="1390" x2="540" y2="1283" stroke="#444" stroke-width="5.51"/><text x="1248" y="1282" font-size="88" text-anchor="start" fill="#333" font-family="Liberation Sans, sans-serif" textLength="68" lengthAdjust="spacingAndGlyphs" >M</text><line x1="1230" y1="1215" x2="1120" y2="1025" stroke="#444" stroke-width="5.51"/><polygon points="1120,1025 1168.76,1083.45 1146.24,1096.45" fill="#111"/><line x1="1255" y1="928" x2="1355" y2="928" stroke="#444" stroke-width="5.51"/><line x1="1255" y1="1045" x2="1355" y2="1045" stroke="#444" stroke-width="5.51"/><line x1="1340" y1="690" x2="1340" y2="928" stroke="#444" stroke-width="5.51"/><polygon points="1340,928 1327,853 1353,853" fill="#111"/><line x1="1340" y1="1045" x2="1340" y2="1165" stroke="#444" stroke-width="5.51"/><polygon points="1340,1045 1353,1120 1327,1120" fill="#111"/><text x="1328" y="780" font-size="74" text-anchor="middle" fill="#333" font-family="Liberation Sans, sans-serif" transform="rotate(-90 1328 780)" letter-spacing="3" >M4</text><line x1="1400" y1="415" x2="1400" y2="690" stroke="#444" stroke-width="5.51"/><polygon points="1400,690 1387,615 1413,615" fill="#111"/><polygon points="1400,415 1413,490 1387,490" fill="#111"/><text x="1490" y="545" font-size="84" text-anchor="middle" fill="#333" font-family="Liberation Sans, sans-serif" transform="rotate(-90 1490 545)" textLength="125" lengthAdjust="spacingAndGlyphs" >ø10</text><line x1="678" y1="1415" x2="678" y2="1525" stroke="#444" stroke-width="5.51"/><line x1="1035" y1="1420" x2="1035" y2="1630" stroke="#444" stroke-width="5.51"/><line x1="678" y1="1508" x2="1035" y2="1508" stroke="#444" stroke-width="5.51"/><polygon points="1035,1508 960,1521 960,1495" fill="#111"/><polygon points="678,1508 753,1495 753,1521" fill="#111"/><text x="858" y="1490" font-size="78" text-anchor="middle" fill="#333" font-family="Liberation Sans, sans-serif" >10</text><line x1="487" y1="1415" x2="487" y2="1630" stroke="#444" stroke-width="5.51"/><line x1="487" y1="1612" x2="1035" y2="1612" stroke="#444" stroke-width="5.51"/><polygon points="1035,1612 960,1625 960,1599" fill="#111"/><polygon points="487,1612 562,1599 562,1625" fill="#111"/><text x="765" y="1600" font-size="78" text-anchor="middle" fill="#333" font-family="Liberation Sans, sans-serif" >15</text>
</g>

<!-- dC -->
<g transform="translate(1280,300) scale(0.20556)" >
<path d="M378,318 L1083,318 L1083,1160 Q1083,1312 930,1312 L530,1312 Q378,1312 378,1160 Z" fill="#e0e0e0" stroke="#444" stroke-width="4.86" /><line x1="378" y1="768" x2="1083" y2="768" stroke="#444" stroke-width="4.86"/><line x1="378" y1="525" x2="1060" y2="525" stroke="#444" stroke-width="4.86"/><line x1="515" y1="550" x2="945" y2="550" stroke="#444" stroke-width="4.86"/><line x1="260" y1="440" x2="440" y2="440" stroke="#444" stroke-width="4.86"/><line x1="465" y1="440" x2="1010" y2="440" stroke="#444" stroke-width="4.86"/><line x1="378" y1="958" x2="1230" y2="958" stroke="#444" stroke-width="4.86"/><line x1="733" y1="268" x2="733" y2="1395" stroke="#444" stroke-width="4.86"/><line x1="640" y1="768" x2="640" y2="1312" stroke="#444" stroke-width="4.86"/><line x1="820" y1="768" x2="820" y2="1312" stroke="#444" stroke-width="4.86"/><line x1="537" y1="790" x2="537" y2="1105" stroke="#444" stroke-width="4.86"/><line x1="537" y1="1140" x2="537" y2="1480" stroke="#444" stroke-width="4.86"/><line x1="927" y1="790" x2="927" y2="1105" stroke="#444" stroke-width="4.86"/><line x1="927" y1="1140" x2="927" y2="1480" stroke="#444" stroke-width="4.86"/><circle cx="733" cy="553" r="128" fill="#fff" stroke="#444" stroke-width="4.86"/><line x1="733" y1="425" x2="733" y2="681" stroke="#444" stroke-width="4.86"/><line x1="605" y1="550" x2="861" y2="550" stroke="#444" stroke-width="4.86"/><line x1="620" y1="525" x2="846" y2="525" stroke="#444" stroke-width="4.86"/><circle cx="537" cy="958" r="125" fill="none" stroke="#444" stroke-width="4.86"/><circle cx="537" cy="958" r="65" fill="#fff" stroke="#444" stroke-width="4.86"/><line x1="537" y1="893" x2="537" y2="1023" stroke="#444" stroke-width="4.86"/><line x1="472" y1="958" x2="602" y2="958" stroke="#444" stroke-width="4.86"/><circle cx="927" cy="958" r="125" fill="none" stroke="#444" stroke-width="4.86"/><circle cx="927" cy="958" r="65" fill="#fff" stroke="#444" stroke-width="4.86"/><line x1="927" y1="893" x2="927" y2="1023" stroke="#444" stroke-width="4.86"/><line x1="862" y1="958" x2="992" y2="958" stroke="#444" stroke-width="4.86"/><line x1="378" y1="185" x2="378" y2="300" stroke="#444" stroke-width="4.86"/><line x1="1083" y1="185" x2="1083" y2="300" stroke="#444" stroke-width="4.86"/><line x1="378" y1="212" x2="1083" y2="212" stroke="#444" stroke-width="4.86"/><polygon points="1083,212 1015,224 1015,200" fill="#111"/><polygon points="378,212 446,200 446,224" fill="#111"/><text x="733" y="190" font-size="76" text-anchor="middle" fill="#333" font-family="Liberation Sans, sans-serif" >20</text><line x1="260" y1="1312" x2="540" y2="1312" stroke="#444" stroke-width="4.86"/><line x1="278" y1="440" x2="278" y2="1312" stroke="#444" stroke-width="4.86"/><polygon points="278,1312 266,1244 290,1244" fill="#111"/><polygon points="278,440 290,508 266,508" fill="#111"/><text x="262" y="840" font-size="74" text-anchor="middle" fill="#333" font-family="Liberation Sans, sans-serif" transform="rotate(-90 262 840)" letter-spacing="8" >(28)</text><line x1="1105" y1="328" x2="1370" y2="328" stroke="#444" stroke-width="4.86"/><line x1="930" y1="1312" x2="1370" y2="1312" stroke="#444" stroke-width="4.86"/><line x1="1352" y1="328" x2="1352" y2="1312" stroke="#444" stroke-width="4.86"/><polygon points="1352,1312 1340,1244 1364,1244" fill="#111"/><polygon points="1352,328 1364,396 1340,396" fill="#111"/><text x="1347" y="740" font-size="76" text-anchor="middle" fill="#333" font-family="Liberation Sans, sans-serif" transform="rotate(-90 1347 740)" >31</text><line x1="1228" y1="958" x2="1228" y2="1312" stroke="#444" stroke-width="4.86"/><polygon points="1228,1312 1216,1244 1240,1244" fill="#111"/><polygon points="1228,958 1240,1026 1216,1026" fill="#111"/><text x="1216" y="1120" font-size="76" text-anchor="middle" fill="#333" font-family="Liberation Sans, sans-serif" transform="rotate(-90 1216 1120)" textLength="215" lengthAdjust="spacingAndGlyphs" >11 ± 0.1</text><line x1="537" y1="1440" x2="927" y2="1440" stroke="#444" stroke-width="4.86"/><polygon points="927,1440 859,1452 859,1428" fill="#111"/><polygon points="537,1440 605,1428 605,1452" fill="#111"/><text x="760" y="1422" font-size="82" text-anchor="middle" fill="#333" font-family="Liberation Sans, sans-serif" textLength="285" lengthAdjust="spacingAndGlyphs" >10.4 ± 0.1</text><line x1="300" y1="1440" x2="437" y2="1283" stroke="#444" stroke-width="4.86"/><polygon points="437,1283 405.94,1335.5 389.33,1321.07" fill="#111"/><text x="272" y="1432" font-size="68" text-anchor="start" fill="#333" font-family="Liberation Sans, sans-serif" transform="rotate(-49 272 1432)" >R5</text><text x="510" y="1645" font-size="104" text-anchor="start" fill="#222" font-family="Liberation Sans, sans-serif" textLength="447" lengthAdjust="spacing" >Z5135−1</text>
</g>

<!-- dD -->
<g transform="translate(715,670) scale(0.23277)" >
<polyline points="48,500 48,152 1590,152 1590,470" fill="none" stroke="#444" stroke-width="4.3" stroke-linejoin="miter"/><polygon points="48,640 460,640 460,470 1590,470 1590,908 48,908" fill="#c6c6c6" stroke="#444" stroke-width="4.3" stroke-linejoin="miter"/><polygon points="48,500 250,500 250,298 458,298 458,636 48,636" fill="#e0e0e0" stroke="#444" stroke-width="4.3" stroke-linejoin="miter"/><rect x="250" y="152" width="208" height="58" rx="0" fill="#e0e0e0" stroke="#444" stroke-width="4.3"/><rect x="458" y="152" width="174" height="58" rx="0" fill="#fff" stroke="#444" stroke-width="4.3"/><rect x="458" y="298" width="174" height="84" rx="0" fill="#fff" stroke="#444" stroke-width="4.3"/><rect x="458" y="382" width="174" height="88" rx="0" fill="#fff" stroke="#444" stroke-width="4.3"/><rect x="632" y="70" width="206" height="400" rx="0" fill="#c6c6c6" stroke="#444" stroke-width="4.3"/><rect x="250" y="210" width="520" height="88" rx="0" fill="#fff" stroke="#444" stroke-width="4.3"/><line x1="340" y1="210" x2="340" y2="298" stroke="#444" stroke-width="4.3"/><rect x="770" y="142" width="68" height="226" rx="0" fill="#fff" stroke="#444" stroke-width="4.3"/><line x1="770" y1="352" x2="838" y2="352" stroke="#444" stroke-width="4.3"/><path d="M838,70 L1235,70 Q1320,85 1340,152 L1395,365 L1395,470 L838,470 Z" fill="#e0e0e0" stroke="#444" stroke-width="4.3" /><line x1="1395" y1="365" x2="1590" y2="365" stroke="#444" stroke-width="4.3"/><polygon points="512,470 1108,470 1108,718 512,718" fill="#fff" stroke="#444" stroke-width="4.3" stroke-linejoin="miter"/><rect x="518" y="472" width="272" height="86" rx="0" fill="#c6c6c6" stroke="#444" stroke-width="4.3"/><line x1="790" y1="470" x2="790" y2="558" stroke="#444" stroke-width="4.3"/><polygon points="930,470 978,420 1025,470" fill="#fff" stroke="none" stroke-width="0" stroke-linejoin="miter"/><circle cx="978" cy="472" r="76" fill="none" stroke="#444" stroke-width="4.3"/><polyline points="930,548 930,470 978,420 1025,470 1025,640" fill="none" stroke="#444" stroke-width="4.3" stroke-linejoin="miter"/><line x1="978" y1="420" x2="895" y2="335" stroke="#444" stroke-width="4.3"/><line x1="978" y1="420" x2="1065" y2="330" stroke="#444" stroke-width="4.3"/><path d="M897,337 Q978,290 1063,332" fill="none" stroke="#444" stroke-width="4.3" /><polygon points="897,337 945.19,296.47 956.19,315.53" fill="#111"/><polygon points="1063,332 1003.09,312.61 1013.42,293.18" fill="#111"/><text x="982" y="278" font-size="46" text-anchor="middle" fill="#333" font-family="Liberation Sans, sans-serif" letter-spacing="4" >90°</text><path d="M555,562 L920,555 L930,548 M1025,640 L590,715 A78,78 0 0 1 555,562" fill="#fff" stroke="#444" stroke-width="4.3" /><circle cx="590" cy="637" r="42" fill="#e0e0e0" stroke="#444" stroke-width="4.3"/><line x1="540" y1="637" x2="640" y2="637" stroke="#444" stroke-width="4.3"/><line x1="590" y1="587" x2="590" y2="687" stroke="#444" stroke-width="4.3"/><rect x="800" y="572" width="165" height="250" rx="0" fill="#c6c6c6" stroke="#444" stroke-width="4.3"/><path d="M820,571 L938,584 L938,606 L820,593 Z" fill="#e0e0e0" stroke="#444" stroke-width="3.44" /><line x1="938" y1="606" x2="820" y2="617" stroke="#444" stroke-width="3.44"/><path d="M820,617 L938,634 L938,656 L820,639 Z" fill="#e0e0e0" stroke="#444" stroke-width="3.44" /><line x1="938" y1="656" x2="820" y2="667" stroke="#444" stroke-width="3.44"/><path d="M820,667 L938,684 L938,706 L820,689 Z" fill="#e0e0e0" stroke="#444" stroke-width="3.44" /><line x1="938" y1="706" x2="820" y2="724" stroke="#444" stroke-width="3.44"/><path d="M820,724 L938,739 L938,761 L820,746 Z" fill="#e0e0e0" stroke="#444" stroke-width="3.44" /><line x1="938" y1="761" x2="820" y2="777" stroke="#444" stroke-width="3.44"/><path d="M820,777 L938,789 L938,811 L820,799 Z" fill="#e0e0e0" stroke="#444" stroke-width="3.44" /><circle cx="820" cy="582" r="13" fill="#fff" stroke="#444" stroke-width="3.44"/><circle cx="820" cy="628" r="13" fill="#fff" stroke="#444" stroke-width="3.44"/><circle cx="820" cy="678" r="13" fill="#fff" stroke="#444" stroke-width="3.44"/><circle cx="820" cy="735" r="13" fill="#fff" stroke="#444" stroke-width="3.44"/><circle cx="820" cy="788" r="13" fill="#fff" stroke="#444" stroke-width="3.44"/><circle cx="938" cy="595" r="13" fill="#fff" stroke="#444" stroke-width="3.44"/><circle cx="938" cy="645" r="13" fill="#fff" stroke="#444" stroke-width="3.44"/><circle cx="938" cy="695" r="13" fill="#fff" stroke="#444" stroke-width="3.44"/><circle cx="938" cy="750" r="13" fill="#fff" stroke="#444" stroke-width="3.44"/><circle cx="938" cy="800" r="13" fill="#fff" stroke="#444" stroke-width="3.44"/><line x1="685" y1="645" x2="685" y2="718" stroke="#444" stroke-width="4.3"/><polygon points="685,718 674,658 696,658" fill="#111"/><line x1="685" y1="818" x2="685" y2="890" stroke="#444" stroke-width="4.3"/><polygon points="685,818 696,878 674,878" fill="#111"/><line x1="685" y1="818" x2="800" y2="818" stroke="#444" stroke-width="4.3"/><text x="668" y="768" font-size="40" text-anchor="middle" fill="#333" font-family="Liberation Sans, sans-serif" transform="rotate(-90 668 768)" >9</text><line x1="1120" y1="718" x2="1270" y2="718" stroke="#444" stroke-width="4.3"/><line x1="1108" y1="470" x2="1262" y2="470" stroke="#444" stroke-width="4.3"/><line x1="1255" y1="470" x2="1255" y2="718" stroke="#444" stroke-width="4.3"/><polygon points="1255,718 1244,658 1266,658" fill="#111"/><polygon points="1255,470 1266,530 1244,530" fill="#111"/><text x="1240" y="592" font-size="44" text-anchor="middle" fill="#333" font-family="Liberation Sans, sans-serif" transform="rotate(-90 1240 592)" textLength="160" lengthAdjust="spacingAndGlyphs" >15+0.1</text><line x1="800" y1="835" x2="800" y2="1090" stroke="#444" stroke-width="4.3"/><line x1="960" y1="835" x2="960" y2="1090" stroke="#444" stroke-width="4.3"/><line x1="800" y1="1080" x2="960" y2="1080" stroke="#444" stroke-width="4.3"/><polygon points="960,1080 900,1091 900,1069" fill="#111"/><polygon points="800,1080 860,1069 860,1091" fill="#111"/><text x="880" y="1062" font-size="40" text-anchor="middle" fill="#333" font-family="Liberation Sans, sans-serif" >ø10</text>
</g>

<!-- dE -->
<g transform="translate(1100,680) scale(0.10883)" >
<clipPath id="clipE"><circle cx="742" cy="940" r="400"/></clipPath><g clip-path="url(#clipE)"><rect x="300" y="500" width="900" height="405" rx="0" fill="#e0e0e0" stroke="none" stroke-width="0"/><polygon points="550,905 730,745 775,745 955,905 955,1400 550,1400" fill="#c6c6c6" stroke="#444" stroke-width="9.19" stroke-linejoin="miter"/></g><circle cx="742" cy="940" r="400" fill="none" stroke="#444" stroke-width="9.19"/><line x1="190" y1="712" x2="720" y2="712" stroke="#444" stroke-width="9.19"/><line x1="740" y1="745" x2="1395" y2="745" stroke="#444" stroke-width="9.19"/><line x1="180" y1="905" x2="1395" y2="905" stroke="#444" stroke-width="9.19"/><line x1="515" y1="488" x2="720" y2="700" stroke="#444" stroke-width="9.19"/><line x1="985" y1="488" x2="770" y2="695" stroke="#444" stroke-width="9.19"/><path d="M518,490 Q750,350 982,490" fill="none" stroke="#444" stroke-width="9.19" /><polygon points="518,490 617.59,403.33 641.28,442.76" fill="#111"/><polygon points="982,490 858.72,442.76 882.41,403.33" fill="#111"/><text x="755" y="362" font-size="84" text-anchor="middle" fill="#333" font-family="Liberation Sans, sans-serif" letter-spacing="8" >90°</text><line x1="200" y1="530" x2="200" y2="712" stroke="#444" stroke-width="9.19"/><polygon points="200,712 178,587 222,587" fill="#111"/><line x1="200" y1="905" x2="200" y2="1085" stroke="#444" stroke-width="9.19"/><polygon points="200,905 222,1030 178,1030" fill="#111"/><text x="168" y="800" font-size="74" text-anchor="middle" fill="#333" font-family="Liberation Sans, sans-serif" transform="rotate(-90 168 800)" >3</text><line x1="1378" y1="160" x2="1378" y2="745" stroke="#444" stroke-width="9.19"/><polygon points="1378,745 1356,620 1400,620" fill="#111"/><line x1="1378" y1="905" x2="1378" y2="1085" stroke="#444" stroke-width="9.19"/><polygon points="1378,905 1400,1030 1356,1030" fill="#111"/><text x="1352" y="370" font-size="78" text-anchor="middle" fill="#333" font-family="Liberation Sans, sans-serif" transform="rotate(-90 1352 370)" textLength="345" lengthAdjust="spacing" >2.5+0.1</text>
</g>

<!-- dF -->
<g transform="translate(1280,640) scale(0.19347)" >
<rect x="115" y="75" width="1407" height="1410" rx="0" fill="#e0e0e0" stroke="#444" stroke-width="5.17" stroke-dasharray="28.43,12.92"/><path d="M115,288 L380,288 Q495,292 495,405 L495,1125 Q495,1236 380,1238 L115,1238" fill="none" stroke="#444" stroke-width="5.17" /><line x1="495" y1="432" x2="1522" y2="432" stroke="#444" stroke-width="5.17" stroke-dasharray="28.43,12.92"/><line x1="495" y1="1098" x2="1522" y2="1098" stroke="#444" stroke-width="5.17" stroke-dasharray="28.43,12.92"/><line x1="495" y1="500" x2="1522" y2="500" stroke="#444" stroke-width="5.17"/><line x1="495" y1="1030" x2="1522" y2="1030" stroke="#444" stroke-width="5.17"/><line x1="115" y1="712" x2="1522" y2="712" stroke="#444" stroke-width="5.17" stroke-dasharray="72.36,15.51,15.51,15.51"/><line x1="570" y1="215" x2="570" y2="1395" stroke="#444" stroke-width="5.17"/><line x1="680" y1="385" x2="680" y2="600" stroke="#444" stroke-width="5.17"/><line x1="873" y1="305" x2="873" y2="730" stroke="#444" stroke-width="5.17"/><line x1="1052" y1="195" x2="1052" y2="712" stroke="#444" stroke-width="5.17"/><line x1="710" y1="945" x2="710" y2="1165" stroke="#444" stroke-width="5.17"/><line x1="903" y1="945" x2="903" y2="1290" stroke="#444" stroke-width="5.17"/><line x1="1078" y1="712" x2="1078" y2="1385" stroke="#444" stroke-width="5.17"/><path d="M570,640 Q570,580 630,580 L1010,580 Q1052,580 1052,625 L1052,712 L1078,712 L1078,900 Q1078,950 1030,950 L630,950 Q570,950 570,890 Z" fill="none" stroke="#444" stroke-width="5.17" /><path d="M802,712 A68,68 0 0 1 938,712" fill="none" stroke="#444" stroke-width="5.17" /><circle cx="903" cy="848" r="68" fill="none" stroke="#444" stroke-width="5.17"/><line x1="820" y1="848" x2="1140" y2="848" stroke="#444" stroke-width="5.17"/><line x1="903" y1="770" x2="903" y2="945" stroke="#444" stroke-width="5.17"/><circle cx="680" cy="640" r="30" fill="none" stroke="#444" stroke-width="4.14"/><circle cx="680" cy="640" r="18" fill="none" stroke="#444" stroke-width="4.14"/><line x1="630" y1="640" x2="730" y2="640" stroke="#444" stroke-width="4.14"/><line x1="680" y1="595" x2="680" y2="685" stroke="#444" stroke-width="4.14"/><circle cx="710" cy="888" r="30" fill="none" stroke="#444" stroke-width="4.14"/><circle cx="710" cy="888" r="18" fill="none" stroke="#444" stroke-width="4.14"/><line x1="660" y1="888" x2="760" y2="888" stroke="#444" stroke-width="4.14"/><line x1="710" y1="843" x2="710" y2="933" stroke="#444" stroke-width="4.14"/><line x1="740" y1="640" x2="1205" y2="640" stroke="#444" stroke-width="5.17" stroke-dasharray="62.03,15.51"/><line x1="745" y1="888" x2="1210" y2="888" stroke="#444" stroke-width="5.17" stroke-dasharray="62.03,15.51"/><line x1="1010" y1="580" x2="1410" y2="580" stroke="#444" stroke-width="5.17"/><line x1="1030" y1="950" x2="1410" y2="950" stroke="#444" stroke-width="5.17"/><line x1="570" y1="222" x2="1052" y2="222" stroke="#444" stroke-width="5.17"/><polygon points="1052,222 982,235 982,209" fill="#111"/><polygon points="570,222 640,209 640,235" fill="#111"/><text x="785" y="205" font-size="66" text-anchor="middle" fill="#333" font-family="Liberation Sans, sans-serif" >38+1</text><line x1="570" y1="318" x2="873" y2="318" stroke="#444" stroke-width="5.17"/><polygon points="873,318 803,331 803,305" fill="#111"/><polygon points="570,318 640,305 640,331" fill="#111"/><text x="725" y="302" font-size="50" text-anchor="middle" fill="#333" font-family="Liberation Sans, sans-serif" textLength="255" lengthAdjust="spacingAndGlyphs" >24 ± 0 . 1</text><line x1="570" y1="393" x2="680" y2="393" stroke="#444" stroke-width="5.17"/><polygon points="680,393 624,406 624,380" fill="#111"/><polygon points="570,393 626,380 626,406" fill="#111"/><line x1="680" y1="395" x2="800" y2="395" stroke="#444" stroke-width="5.17"/><text x="665" y="385" font-size="48" text-anchor="start" fill="#333" font-family="Liberation Sans, sans-serif" textLength="195" lengthAdjust="spacingAndGlyphs" >11 ± 0.1</text><text x="420" y="475" font-size="50" text-anchor="middle" fill="#333" font-family="Liberation Sans, sans-serif" transform="rotate(-90 420 475)" >M 4</text><line x1="428" y1="420" x2="428" y2="608" stroke="#444" stroke-width="5.17"/><polygon points="428,608 415,538 441,538" fill="#111"/><line x1="415" y1="608" x2="640" y2="608" stroke="#444" stroke-width="5.17"/><text x="150" y="628" font-size="40" text-anchor="start" fill="#333" font-family="Liberation Sans, sans-serif" textLength="200" lengthAdjust="spacing" >Z5135/1</text><text x="140" y="865" font-size="40" text-anchor="start" fill="#333" font-family="Liberation Sans, sans-serif" textLength="208" lengthAdjust="spacing" >Z5135/2</text><line x1="415" y1="672" x2="635" y2="672" stroke="#444" stroke-width="5.17"/><line x1="415" y1="858" x2="690" y2="858" stroke="#444" stroke-width="5.17"/><line x1="415" y1="920" x2="620" y2="920" stroke="#444" stroke-width="5.17"/><line x1="428" y1="672" x2="428" y2="858" stroke="#444" stroke-width="5.17"/><polygon points="428,858 415,788 441,788" fill="#111"/><polygon points="428,672 441,742 415,742" fill="#111"/><line x1="428" y1="920" x2="428" y2="1080" stroke="#444" stroke-width="5.17"/><polygon points="428,920 441,990 415,990" fill="#111"/><text x="420" y="1040" font-size="50" text-anchor="middle" fill="#333" font-family="Liberation Sans, sans-serif" transform="rotate(-90 420 1040)" >M5</text><text x="690" y="782" font-size="76" text-anchor="start" fill="#333" font-family="Liberation Sans, sans-serif" textLength="98" lengthAdjust="spacingAndGlyphs" >R5</text><polyline points="770,800 685,800 612,945" fill="none" stroke="#444" stroke-width="5.17" stroke-linejoin="miter"/><polygon points="612,945 635.85,867.36 660.79,880.08" fill="#111"/><line x1="570" y1="1165" x2="710" y2="1165" stroke="#444" stroke-width="5.17"/><polygon points="710,1165 647,1178 647,1152" fill="#111"/><polygon points="570,1165 633,1152 633,1178" fill="#111"/><line x1="710" y1="1162" x2="875" y2="1162" stroke="#444" stroke-width="5.17"/><text x="715" y="1150" font-size="42" text-anchor="start" fill="#333" font-family="Liberation Sans, sans-serif" textLength="185" lengthAdjust="spacingAndGlyphs" >12 ± 0.1</text><line x1="570" y1="1272" x2="903" y2="1272" stroke="#444" stroke-width="5.17"/><polygon points="903,1272 833,1285 833,1259" fill="#111"/><polygon points="570,1272 640,1259 640,1285" fill="#111"/><text x="740" y="1255" font-size="54" text-anchor="middle" fill="#333" font-family="Liberation Sans, sans-serif" textLength="240" lengthAdjust="spacingAndGlyphs" >26± 0 . 1</text><line x1="570" y1="1372" x2="1078" y2="1372" stroke="#444" stroke-width="5.17"/><polygon points="1078,1372 1008,1385 1008,1359" fill="#111"/><polygon points="570,1372 640,1359 640,1385" fill="#111"/><text x="815" y="1350" font-size="54" text-anchor="middle" fill="#333" font-family="Liberation Sans, sans-serif" letter-spacing="4" >40+1</text><text x="1268" y="645" font-size="52" text-anchor="middle" fill="#333" font-family="Liberation Sans, sans-serif" transform="rotate(-90 1268 645)" >10.4</text><line x1="1278" y1="565" x2="1278" y2="800" stroke="#444" stroke-width="5.17"/><polygon points="1278,580 1291,636 1265,636" fill="#111"/><line x1="1225" y1="702" x2="1290" y2="702" stroke="#444" stroke-width="5.17"/><text x="1118" y="752" font-size="46" text-anchor="middle" fill="#333" font-family="Liberation Sans, sans-serif" transform="rotate(-90 1118 752)" >24</text><line x1="1128" y1="712" x2="1128" y2="848" stroke="#444" stroke-width="5.17"/><polygon points="1128,848 1115,778 1141,778" fill="#111"/><text x="1183" y="798" font-size="52" text-anchor="middle" fill="#333" font-family="Liberation Sans, sans-serif" transform="rotate(-90 1183 798)" >28</text><line x1="1198" y1="720" x2="1198" y2="888" stroke="#444" stroke-width="5.17"/><polygon points="1198,888 1185,818 1211,818" fill="#111"/><text x="1378" y="795" font-size="54" text-anchor="middle" fill="#333" font-family="Liberation Sans, sans-serif" transform="rotate(-90 1378 795)" textLength="330" lengthAdjust="spacingAndGlyphs" >40.1+0.05</text><line x1="1395" y1="580" x2="1395" y2="950" stroke="#444" stroke-width="5.17"/><polygon points="1395,950 1382,880 1408,880" fill="#111"/><polygon points="1395,580 1408,650 1382,650" fill="#111"/><text x="1472" y="660" font-size="46" text-anchor="middle" fill="#333" font-family="Liberation Sans, sans-serif" transform="rotate(-90 1472 660)" textLength="300" lengthAdjust="spacingAndGlyphs" >20.1+0.005</text>
</g>

<!-- dG -->
<g transform="translate(720,1270) scale(0.21766)" >
<path d="M405,270 L1010,270 L1460,385 Q1487,395 1487,420 L1487,447 L772,447 Q750,490 772,537 Q750,585 772,625 L1487,625 L1487,655 Q1487,678 1460,685 L1010,800 L405,795 Z" fill="#e0e0e0" stroke="#444" stroke-width="4.59" /><circle cx="580" cy="537" r="45" fill="none" stroke="#444" stroke-width="3.68"/><circle cx="580" cy="537" r="68" fill="none" stroke="#444" stroke-width="3.68"/><circle cx="580" cy="537" r="92" fill="none" stroke="#444" stroke-width="3.68"/><circle cx="580" cy="537" r="115" fill="none" stroke="#444" stroke-width="3.68"/><circle cx="580" cy="537" r="138" fill="none" stroke="#444" stroke-width="3.68"/><circle cx="580" cy="537" r="160" fill="none" stroke="#444" stroke-width="3.68"/><polygon points="610,537 595,562.98 565,562.98 550,537 565,511.02 595,511.02" fill="none" stroke="#444" stroke-width="3.68" stroke-linejoin="miter"/><path d="M405,335 L600,335 Q740,345 770,450" fill="none" stroke="#444" stroke-width="4.59" stroke-dasharray="22.97,9.19" /><path d="M415,370 Q430,350 560,350 Q700,355 745,440" fill="none" stroke="#444" stroke-width="3.68" stroke-dasharray="22.97,9.19" /><path d="M440,375 Q415,540 445,715 Q560,720 650,705" fill="none" stroke="#444" stroke-width="3.68" stroke-dasharray="22.97,9.19" /><path d="M405,730 L630,730 Q730,700 770,625" fill="none" stroke="#444" stroke-width="4.59" /><circle cx="828" cy="237" r="67" fill="#e0e0e0" stroke="#444" stroke-width="4.59"/><circle cx="828" cy="832" r="67" fill="#e0e0e0" stroke="#444" stroke-width="4.59"/><line x1="140" y1="237" x2="735" y2="237" stroke="#444" stroke-width="4.59"/><line x1="745" y1="237" x2="915" y2="237" stroke="#444" stroke-width="4.59" stroke-dasharray="36.76,9.19,9.19,9.19"/><line x1="828" y1="165" x2="828" y2="330" stroke="#444" stroke-width="4.59" stroke-dasharray="36.76,9.19,9.19,9.19"/><line x1="140" y1="832" x2="720" y2="832" stroke="#444" stroke-width="4.59"/><line x1="735" y1="832" x2="915" y2="832" stroke="#444" stroke-width="4.59" stroke-dasharray="36.76,9.19,9.19,9.19"/><line x1="828" y1="740" x2="828" y2="925" stroke="#444" stroke-width="4.59" stroke-dasharray="36.76,9.19,9.19,9.19"/><line x1="375" y1="537" x2="1495" y2="537" stroke="#444" stroke-width="4.59" stroke-dasharray="64.32,9.19,13.78,9.19"/><path d="M1105,452 L1000,478 L1165,512 L1000,550 L1165,582 L1000,618" fill="none" stroke="#444" stroke-width="30" stroke-linejoin="round" stroke-linecap="round"/><path d="M1105,452 L1000,478 L1165,512 L1000,550 L1165,582 L1000,618" fill="none" stroke="#c6c6c6" stroke-width="22" stroke-linejoin="round" stroke-linecap="round"/><line x1="772" y1="447" x2="1487" y2="447" stroke="#444" stroke-width="4.59"/><line x1="772" y1="625" x2="1487" y2="625" stroke="#444" stroke-width="4.59"/><line x1="405" y1="95" x2="405" y2="260" stroke="#444" stroke-width="4.59"/><line x1="828" y1="95" x2="828" y2="170" stroke="#444" stroke-width="4.59"/><line x1="405" y1="112" x2="828" y2="112" stroke="#444" stroke-width="4.59"/><polygon points="828,112 766,123 766,101" fill="#111"/><polygon points="405,112 467,101 467,123" fill="#111"/><text x="590" y="92" font-size="58" text-anchor="start" fill="#333" font-family="Liberation Sans, sans-serif" >l</text><text x="612" y="102" font-size="36" text-anchor="start" fill="#333" font-family="Liberation Sans, sans-serif" >2</text><line x1="580" y1="180" x2="580" y2="720" stroke="#444" stroke-width="4.59"/><line x1="405" y1="192" x2="580" y2="192" stroke="#444" stroke-width="4.59"/><polygon points="580,192 524.2,203 524.2,181" fill="#111"/><polygon points="405,192 460.8,181 460.8,203" fill="#111"/><text x="472" y="178" font-size="58" text-anchor="start" fill="#333" font-family="Liberation Sans, sans-serif" >l</text><text x="490" y="182" font-size="52" text-anchor="start" fill="#333" font-family="Liberation Sans, sans-serif" >3</text><line x1="160" y1="237" x2="160" y2="832" stroke="#444" stroke-width="4.59"/><polygon points="160,832 149,770 171,770" fill="#111"/><polygon points="160,237 171,299 149,299" fill="#111"/><text x="140" y="515" font-size="56" text-anchor="middle" fill="#333" font-family="Liberation Sans, sans-serif" transform="rotate(-90 140 515)" >b 2</text><line x1="220" y1="270" x2="380" y2="270" stroke="#444" stroke-width="4.59"/><line x1="220" y1="800" x2="380" y2="800" stroke="#444" stroke-width="4.59"/><line x1="250" y1="270" x2="250" y2="800" stroke="#444" stroke-width="4.59"/><polygon points="250,800 239,738 261,738" fill="#111"/><polygon points="250,270 261,332 239,332" fill="#111"/><text x="233" y="510" font-size="56" text-anchor="middle" fill="#333" font-family="Liberation Sans, sans-serif" transform="rotate(-90 233 510)" >b 1</text><line x1="395" y1="520" x2="265" y2="520" stroke="#444" stroke-width="4.59"/><polygon points="265,520 327,509 327,531" fill="#111"/><text x="328" y="500" font-size="52" text-anchor="start" fill="#333" font-family="Liberation Sans, sans-serif" >F</text><line x1="405" y1="810" x2="405" y2="1005" stroke="#444" stroke-width="4.59"/><line x1="1485" y1="680" x2="1485" y2="1010" stroke="#444" stroke-width="4.59"/><line x1="405" y1="993" x2="1485" y2="993" stroke="#444" stroke-width="4.59"/><polygon points="1485,993 1423,1004 1423,982" fill="#111"/><polygon points="405,993 467,982 467,1004" fill="#111"/><text x="925" y="972" font-size="60" text-anchor="start" fill="#333" font-family="Liberation Sans, sans-serif" >l</text><text x="948" y="978" font-size="36" text-anchor="start" fill="#333" font-family="Liberation Sans, sans-serif" >1</text>
</g>

<!-- dH -->
<g transform="translate(640,1490) scale(0.30230)" >
<polygon points="62,205 538,205 538,122 652,122 652,1225 538,1225 538,1142 62,1142" fill="#e0e0e0" stroke="#444" stroke-width="3.31" stroke-linejoin="miter"/><rect x="608" y="430" width="557" height="85" rx="10" fill="#fff" stroke="#444" stroke-width="3.31"/><rect x="608" y="430" width="44" height="85" rx="10" fill="#e0e0e0" stroke="#444" stroke-width="3.31"/><rect x="968" y="430" width="175" height="85" rx="0" fill="#e0e0e0" stroke="none" stroke-width="0"/><line x1="628" y1="430" x2="628" y2="515" stroke="#444" stroke-width="3.31"/><line x1="1143" y1="430" x2="1143" y2="515" stroke="#444" stroke-width="3.31"/><line x1="652" y1="430" x2="1143" y2="430" stroke="#444" stroke-width="3.31"/><line x1="652" y1="515" x2="1143" y2="515" stroke="#444" stroke-width="3.31"/><rect x="608" y="830" width="557" height="85" rx="10" fill="#fff" stroke="#444" stroke-width="3.31"/><rect x="608" y="830" width="44" height="85" rx="10" fill="#e0e0e0" stroke="#444" stroke-width="3.31"/><rect x="968" y="830" width="175" height="85" rx="0" fill="#e0e0e0" stroke="none" stroke-width="0"/><line x1="628" y1="830" x2="628" y2="915" stroke="#444" stroke-width="3.31"/><line x1="1143" y1="830" x2="1143" y2="915" stroke="#444" stroke-width="3.31"/><line x1="652" y1="830" x2="1143" y2="830" stroke="#444" stroke-width="3.31"/><line x1="652" y1="915" x2="1143" y2="915" stroke="#444" stroke-width="3.31"/><rect x="968" y="490" width="215" height="363" rx="0" fill="#e0e0e0" stroke="#444" stroke-width="3.31"/><rect x="968" y="605" width="215" height="133" rx="0" fill="#fff" stroke="#444" stroke-width="3.31"/><path d="M1075,612 L1020,640 L1130,655 L1020,690 L1130,705 L1030,732" fill="none" stroke="#444" stroke-width="22" stroke-linejoin="round" stroke-linecap="round"/><path d="M1075,612 L1020,640 L1130,655 L1020,690 L1130,705 L1030,732" fill="none" stroke="#c6c6c6" stroke-width="15" stroke-linejoin="round" stroke-linecap="round"/><line x1="968" y1="605" x2="1183" y2="605" stroke="#444" stroke-width="3.31"/><line x1="968" y1="738" x2="1183" y2="738" stroke="#444" stroke-width="3.31"/><rect x="1183" y="620" width="129" height="102" rx="0" fill="#e0e0e0" stroke="#444" stroke-width="3.31"/><rect x="1312" y="648" width="23" height="52" rx="0" fill="#e0e0e0" stroke="#444" stroke-width="3.31"/><rect x="1335" y="640" width="168" height="65" rx="0" fill="#e0e0e0" stroke="#444" stroke-width="3.31"/><line x1="1335" y1="650" x2="1503" y2="650" stroke="#444" stroke-width="2.32"/><line x1="1335" y1="695" x2="1503" y2="695" stroke="#444" stroke-width="2.32"/><line x1="322" y1="670" x2="1535" y2="670" stroke="#444" stroke-width="3.31" stroke-dasharray="33.08,6.62,9.92,6.62"/><line x1="575" y1="472" x2="1180" y2="472" stroke="#444" stroke-width="3.31" stroke-dasharray="13.23,6.62"/><line x1="575" y1="872" x2="1180" y2="872" stroke="#444" stroke-width="3.31" stroke-dasharray="29.77,9.92"/><line x1="540" y1="830" x2="610" y2="830" stroke="#444" stroke-width="3.31"/><line x1="540" y1="915" x2="610" y2="915" stroke="#444" stroke-width="3.31"/><line x1="553" y1="655" x2="553" y2="915" stroke="#444" stroke-width="3.31"/><polygon points="553,830 560,860 546,860" fill="#111"/><polygon points="553,915 546,885 560,885" fill="#111"/><text x="535" y="730" font-size="42" text-anchor="middle" fill="#333" font-family="Liberation Sans, sans-serif" transform="rotate(-90 535 730)" letter-spacing="4" >ø6g6</text><line x1="603" y1="915" x2="603" y2="1000" stroke="#444" stroke-width="3.31"/><line x1="1165" y1="915" x2="1165" y2="1000" stroke="#444" stroke-width="3.31"/><line x1="603" y1="988" x2="1165" y2="988" stroke="#444" stroke-width="3.31"/><polygon points="1165,988 1119,996 1119,980" fill="#111"/><polygon points="603,988 649,980 649,996" fill="#111"/><text x="858" y="978" font-size="42" text-anchor="middle" fill="#333" font-family="Liberation Sans, sans-serif" letter-spacing="5" >30</text><line x1="1183" y1="870" x2="1183" y2="1090" stroke="#444" stroke-width="3.31"/><line x1="1312" y1="740" x2="1312" y2="1025" stroke="#444" stroke-width="3.31"/><line x1="1183" y1="1018" x2="1312" y2="1018" stroke="#444" stroke-width="3.31"/><polygon points="1312,1018 1266,1026 1266,1010" fill="#111"/><polygon points="1183,1018 1229,1010 1229,1026" fill="#111"/><text x="1224" y="1008" font-size="44" text-anchor="start" fill="#333" font-family="Liberation Sans, sans-serif" >l</text><text x="1240" y="1008" font-size="32" text-anchor="start" fill="#333" font-family="Liberation Sans, sans-serif" >4</text><line x1="968" y1="1078" x2="1183" y2="1078" stroke="#444" stroke-width="3.31"/><polygon points="1183,1078 1137,1086 1137,1070" fill="#111"/><polygon points="968,1078 1014,1070 1014,1086" fill="#111"/><text x="1050" y="1068" font-size="46" text-anchor="start" fill="#333" font-family="Liberation Sans, sans-serif" >h</text><text x="1080" y="1068" font-size="34" text-anchor="start" fill="#333" font-family="Liberation Sans, sans-serif" >1</text><line x1="1503" y1="725" x2="1503" y2="805" stroke="#444" stroke-width="3.31"/><line x1="1312" y1="800" x2="1503" y2="800" stroke="#444" stroke-width="3.31"/><polygon points="1503,800 1457,808 1457,792" fill="#111"/><polygon points="1312,800 1358,792 1358,808" fill="#111"/><text x="1388" y="783" font-size="48" text-anchor="start" fill="#333" font-family="Liberation Sans, sans-serif" >l</text><text x="1406" y="783" font-size="36" text-anchor="start" fill="#333" font-family="Liberation Sans, sans-serif" >5</text><line x1="1520" y1="640" x2="1560" y2="640" stroke="#444" stroke-width="3.31"/><line x1="1520" y1="705" x2="1560" y2="705" stroke="#444" stroke-width="3.31"/><line x1="1548" y1="480" x2="1548" y2="640" stroke="#444" stroke-width="3.31"/><polygon points="1548,640 1540,594 1556,594" fill="#111"/><line x1="1548" y1="705" x2="1548" y2="755" stroke="#444" stroke-width="3.31"/><polygon points="1548,705 1556,751 1540,751" fill="#111"/><text x="1540" y="510" font-size="40" text-anchor="middle" fill="#333" font-family="Liberation Sans, sans-serif" transform="rotate(-90 1540 510)" >d1</text>
</g>

<!-- dI -->
<g transform="translate(1160,1480) scale(0.24184)" >
<rect x="172" y="105" width="1320" height="1415" rx="0" fill="#e0e0e0" stroke="#444" stroke-width="4.55"/><line x1="172" y1="192" x2="1492" y2="192" stroke="#444" stroke-width="4.13"/><line x1="172" y1="410" x2="1492" y2="410" stroke="#444" stroke-width="4.13"/><line x1="172" y1="480" x2="1492" y2="480" stroke="#444" stroke-width="4.13"/><line x1="172" y1="1175" x2="1492" y2="1175" stroke="#444" stroke-width="4.13"/><line x1="172" y1="1250" x2="1492" y2="1250" stroke="#444" stroke-width="4.13"/><line x1="172" y1="1465" x2="1492" y2="1465" stroke="#444" stroke-width="4.13"/><path d="M172,663 L880,663 Q905,665 905,692 L905,965 Q905,992 880,993 L172,993" fill="none" stroke="#444" stroke-width="3.31" /><path d="M172,710 L880,710 Q905,715 905,745" fill="none" stroke="#444" stroke-width="3.31" /><path d="M172,943 L880,943 Q905,940 905,915" fill="none" stroke="#444" stroke-width="3.31" /><line x1="176" y1="710" x2="176" y2="943" stroke="#444" stroke-width="4.13"/><polygon points="477,722 700,722 870,775 870,880 710,935 477,935" fill="none" stroke="#444" stroke-width="3.31" stroke-linejoin="miter"/><circle cx="538" cy="830" r="75" fill="none" stroke="#444" stroke-width="3.31"/><circle cx="538" cy="830" r="55" fill="none" stroke="#444" stroke-width="3.31"/><circle cx="538" cy="830" r="18" fill="none" stroke="#444" stroke-width="3.31"/><line x1="538" y1="745" x2="538" y2="915" stroke="#444" stroke-width="3.31"/><line x1="600" y1="795" x2="870" y2="795" stroke="#444" stroke-width="3.31"/><line x1="600" y1="868" x2="870" y2="868" stroke="#444" stroke-width="3.31"/><circle cx="632" cy="710" r="25" fill="none" stroke="#444" stroke-width="3.31"/><line x1="632" y1="672" x2="632" y2="748" stroke="#444" stroke-width="3.31"/><circle cx="632" cy="950" r="25" fill="none" stroke="#444" stroke-width="3.31"/><line x1="632" y1="912" x2="632" y2="988" stroke="#444" stroke-width="3.31"/><path d="M700,800 L765,812 L705,822 L765,835 L705,845 L765,858" fill="none" stroke="#444" stroke-width="3.31" /><path d="M905,745 Q930,722 975,722 L1090,722 A106,106 0 0 1 1090,935 L975,935 Q930,935 905,912 Q870,870 870,830 Q870,785 905,745 Z" fill="none" stroke="#444" stroke-width="3.31" /><line x1="968" y1="710" x2="968" y2="945" stroke="#444" stroke-width="3.31" stroke-dasharray="10.34,8.27"/><line x1="1093" y1="710" x2="1093" y2="945" stroke="#444" stroke-width="3.31" stroke-dasharray="10.34,8.27"/><line x1="118" y1="828" x2="1540" y2="828" stroke="#333" stroke-width="3.72" stroke-dasharray="10.34,8.27"/>
</g>

<!-- dZ2 -->
<g transform="translate(300,640) scale(0.24184)" >
<path d="M300,212 L1200,212 L1200,930 Q1200,1065 1065,1065 L435,1065 Q300,1065 300,930 Z" fill="#e0e0e0" stroke="#444" stroke-width="4.13" /><line x1="300" y1="380" x2="1200" y2="380" stroke="#444" stroke-width="4.13"/><line x1="300" y1="593" x2="1200" y2="593" stroke="#444" stroke-width="4.13"/><line x1="190" y1="308" x2="370" y2="308" stroke="#444" stroke-width="4.13"/><line x1="390" y1="308" x2="1108" y2="308" stroke="#444" stroke-width="4.13"/><line x1="600" y1="593" x2="600" y2="1048" stroke="#444" stroke-width="4.13"/><line x1="895" y1="593" x2="895" y2="1048" stroke="#444" stroke-width="4.13"/><line x1="600" y1="1048" x2="895" y2="1048" stroke="#444" stroke-width="4.13"/><line x1="752" y1="170" x2="752" y2="360" stroke="#444" stroke-width="4.13"/><line x1="752" y1="400" x2="752" y2="600" stroke="#444" stroke-width="4.13"/><line x1="752" y1="660" x2="752" y2="860" stroke="#444" stroke-width="4.13"/><line x1="752" y1="905" x2="752" y2="1100" stroke="#444" stroke-width="4.13"/><circle cx="497" cy="425" r="105" fill="#fff" stroke="#444" stroke-width="4.13"/><line x1="497" y1="285" x2="497" y2="565" stroke="#444" stroke-width="4.13"/><line x1="355" y1="425" x2="639" y2="425" stroke="#444" stroke-width="4.13"/><circle cx="1005" cy="425" r="105" fill="#fff" stroke="#444" stroke-width="4.13"/><line x1="1005" y1="285" x2="1005" y2="565" stroke="#444" stroke-width="4.13"/><line x1="863" y1="425" x2="1147" y2="425" stroke="#444" stroke-width="4.13"/><circle cx="432" cy="748" r="105" fill="none" stroke="#444" stroke-width="4.13"/><circle cx="432" cy="748" r="55" fill="#fff" stroke="#444" stroke-width="4.13"/><line x1="432" y1="605" x2="432" y2="860" stroke="#444" stroke-width="4.13"/><line x1="432" y1="900" x2="432" y2="1190" stroke="#444" stroke-width="4.13"/><circle cx="1065" cy="748" r="105" fill="none" stroke="#444" stroke-width="4.13"/><circle cx="1065" cy="748" r="55" fill="#fff" stroke="#444" stroke-width="4.13"/><line x1="1065" y1="605" x2="1065" y2="860" stroke="#444" stroke-width="4.13"/><line x1="1065" y1="900" x2="1065" y2="1190" stroke="#444" stroke-width="4.13"/><line x1="262" y1="745" x2="600" y2="745" stroke="#444" stroke-width="4.13"/><line x1="895" y1="745" x2="1310" y2="745" stroke="#444" stroke-width="4.13"/><line x1="300" y1="110" x2="300" y2="195" stroke="#444" stroke-width="4.13"/><line x1="1200" y1="110" x2="1200" y2="195" stroke="#444" stroke-width="4.13"/><line x1="300" y1="130" x2="1200" y2="130" stroke="#444" stroke-width="4.13"/><polygon points="1200,130 1142,140 1142,120" fill="#111"/><polygon points="300,130 358,120 358,140" fill="#111"/><text x="735" y="105" font-size="60" text-anchor="middle" fill="#333" font-family="Liberation Sans, sans-serif" letter-spacing="8" >40</text><line x1="190" y1="1048" x2="560" y2="1048" stroke="#444" stroke-width="4.13"/><line x1="205" y1="308" x2="205" y2="1048" stroke="#444" stroke-width="4.13"/><polygon points="205,1048 195,990 215,990" fill="#111"/><polygon points="205,308 215,366 195,366" fill="#111"/><text x="172" y="665" font-size="58" text-anchor="middle" fill="#333" font-family="Liberation Sans, sans-serif" transform="rotate(-90 172 665)" letter-spacing="5" >(30)</text><line x1="1220" y1="212" x2="1410" y2="212" stroke="#444" stroke-width="4.13"/><line x1="1085" y1="1068" x2="1430" y2="1068" stroke="#444" stroke-width="4.13"/><line x1="1388" y1="212" x2="1388" y2="1068" stroke="#444" stroke-width="4.13"/><polygon points="1388,1068 1378,1010 1398,1010" fill="#111"/><polygon points="1388,212 1398,270 1378,270" fill="#111"/><text x="1372" y="620" font-size="58" text-anchor="middle" fill="#333" font-family="Liberation Sans, sans-serif" transform="rotate(-90 1372 620)" >33</text><line x1="1297" y1="745" x2="1297" y2="1068" stroke="#444" stroke-width="4.13"/><polygon points="1297,1068 1287,1010 1307,1010" fill="#111"/><polygon points="1297,745 1307,803 1287,803" fill="#111"/><text x="1276" y="880" font-size="60" text-anchor="middle" fill="#333" font-family="Liberation Sans, sans-serif" transform="rotate(-90 1276 880)" textLength="190" lengthAdjust="spacingAndGlyphs" >12±0.1</text><line x1="432" y1="1180" x2="1065" y2="1180" stroke="#444" stroke-width="4.13"/><polygon points="1065,1180 1007,1190 1007,1170" fill="#111"/><polygon points="432,1180 490,1170 490,1190" fill="#111"/><text x="755" y="1160" font-size="62" text-anchor="middle" fill="#333" font-family="Liberation Sans, sans-serif" textLength="210" lengthAdjust="spacingAndGlyphs" >28±0.1</text><line x1="265" y1="1155" x2="380" y2="1010" stroke="#444" stroke-width="4.13"/><polygon points="380,1010 355.46,1056.92 339.8,1044.47" fill="#111"/><text x="248" y="1143" font-size="56" text-anchor="start" fill="#333" font-family="Liberation Sans, sans-serif" transform="rotate(-51 248 1143)" >R5</text><text x="535" y="1345" font-size="88" text-anchor="start" fill="#222" font-family="Liberation Sans, sans-serif" textLength="392" lengthAdjust="spacing" >Z5135−2</text>
</g>

</svg>
</body></html>
